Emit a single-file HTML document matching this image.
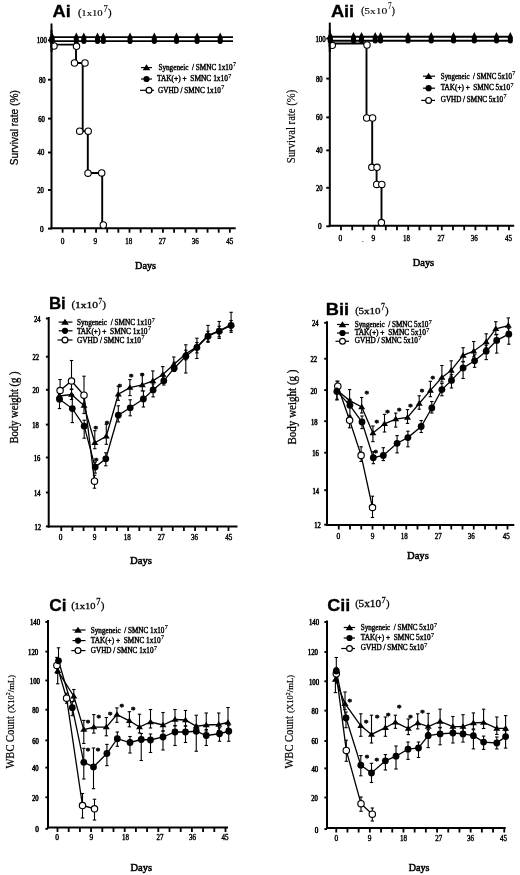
<!DOCTYPE html>
<html><head><meta charset="utf-8"><title>Figure</title>
<style>
html,body{margin:0;padding:0;background:#fff;}
body{width:520px;height:875px;overflow:hidden;}
svg{display:block;filter:blur(0.3px);}
</style></head>
<body>
<svg width="520" height="875" viewBox="0 0 520 875">
<rect width="520" height="875" fill="#fff"/>
<g stroke="#000" fill="#000">
<line x1="51.5" y1="23.5" x2="51.5" y2="229.2" stroke-width="2"/>
<line x1="50.5" y1="228.2" x2="235.7" y2="228.2" stroke-width="2"/>
<line x1="48" y1="40.3" x2="51.5" y2="40.3" stroke-width="1.9"/>
<text x="41.75" y="43.2" font-size="8" font-family="'Liberation Serif', serif" font-weight="normal" text-anchor="middle" stroke="#000" stroke-width="0.5" textLength="10.2" lengthAdjust="spacingAndGlyphs">100</text>
<line x1="48" y1="79.7" x2="51.5" y2="79.7" stroke-width="1.9"/>
<text x="42.2" y="82.6" font-size="8" font-family="'Liberation Serif', serif" font-weight="normal" text-anchor="middle" stroke="#000" stroke-width="0.5" textLength="6.6" lengthAdjust="spacingAndGlyphs">80</text>
<line x1="48" y1="118.6" x2="51.5" y2="118.6" stroke-width="1.9"/>
<text x="41.5" y="121.5" font-size="8" font-family="'Liberation Serif', serif" font-weight="normal" text-anchor="middle" stroke="#000" stroke-width="0.5" textLength="6.6" lengthAdjust="spacingAndGlyphs">60</text>
<line x1="48" y1="152.5" x2="51.5" y2="152.5" stroke-width="1.9"/>
<text x="40.9" y="155.4" font-size="8" font-family="'Liberation Serif', serif" font-weight="normal" text-anchor="middle" stroke="#000" stroke-width="0.5" textLength="6.6" lengthAdjust="spacingAndGlyphs">40</text>
<line x1="48" y1="190" x2="51.5" y2="190" stroke-width="1.9"/>
<text x="40.6" y="192.9" font-size="8" font-family="'Liberation Serif', serif" font-weight="normal" text-anchor="middle" stroke="#000" stroke-width="0.5" textLength="6.6" lengthAdjust="spacingAndGlyphs">20</text>
<line x1="48" y1="228.6" x2="51.5" y2="228.6" stroke-width="1.9"/>
<text x="41.7" y="231.5" font-size="8" font-family="'Liberation Serif', serif" font-weight="normal" text-anchor="middle" stroke="#000" stroke-width="0.5" textLength="3.6" lengthAdjust="spacingAndGlyphs">0</text>
<line x1="62.6" y1="228.2" x2="62.6" y2="232.7" stroke-width="1.8"/>
<line x1="73.75" y1="228.2" x2="73.75" y2="232.7" stroke-width="1.8"/>
<line x1="84.9" y1="228.2" x2="84.9" y2="232.7" stroke-width="1.8"/>
<line x1="96.05" y1="228.2" x2="96.05" y2="232.7" stroke-width="1.8"/>
<line x1="107.2" y1="228.2" x2="107.2" y2="232.7" stroke-width="1.8"/>
<line x1="118.35" y1="228.2" x2="118.35" y2="232.7" stroke-width="1.8"/>
<line x1="129.5" y1="228.2" x2="129.5" y2="232.7" stroke-width="1.8"/>
<line x1="140.65" y1="228.2" x2="140.65" y2="232.7" stroke-width="1.8"/>
<line x1="151.8" y1="228.2" x2="151.8" y2="232.7" stroke-width="1.8"/>
<line x1="162.95" y1="228.2" x2="162.95" y2="232.7" stroke-width="1.8"/>
<line x1="174.1" y1="228.2" x2="174.1" y2="232.7" stroke-width="1.8"/>
<line x1="185.25" y1="228.2" x2="185.25" y2="232.7" stroke-width="1.8"/>
<line x1="196.4" y1="228.2" x2="196.4" y2="232.7" stroke-width="1.8"/>
<line x1="207.55" y1="228.2" x2="207.55" y2="232.7" stroke-width="1.8"/>
<line x1="218.7" y1="228.2" x2="218.7" y2="232.7" stroke-width="1.8"/>
<line x1="229.85" y1="228.2" x2="229.85" y2="232.7" stroke-width="1.8"/>
<text x="62.6" y="243.8" font-size="7.6" font-family="'Liberation Serif', serif" font-weight="normal" text-anchor="middle" stroke="#000" stroke-width="0.4" textLength="3.7" lengthAdjust="spacingAndGlyphs">0</text>
<text x="95.4" y="243.8" font-size="7.6" font-family="'Liberation Serif', serif" font-weight="normal" text-anchor="middle" stroke="#000" stroke-width="0.4" textLength="3.7" lengthAdjust="spacingAndGlyphs">9</text>
<text x="128.8" y="243.8" font-size="7.6" font-family="'Liberation Serif', serif" font-weight="normal" text-anchor="middle" stroke="#000" stroke-width="0.4" textLength="7" lengthAdjust="spacingAndGlyphs">18</text>
<text x="162.3" y="243.8" font-size="7.6" font-family="'Liberation Serif', serif" font-weight="normal" text-anchor="middle" stroke="#000" stroke-width="0.4" textLength="7" lengthAdjust="spacingAndGlyphs">27</text>
<text x="195.3" y="243.8" font-size="7.6" font-family="'Liberation Serif', serif" font-weight="normal" text-anchor="middle" stroke="#000" stroke-width="0.4" textLength="7" lengthAdjust="spacingAndGlyphs">36</text>
<text x="229.7" y="243.8" font-size="7.6" font-family="'Liberation Serif', serif" font-weight="normal" text-anchor="middle" stroke="#000" stroke-width="0.4" textLength="7" lengthAdjust="spacingAndGlyphs">45</text>
<text x="52.6" y="16.5" font-size="16" font-family="'Liberation Sans', sans-serif" font-weight="bold" text-anchor="start" stroke="#000" stroke-width="0.3" textLength="18.2" lengthAdjust="spacingAndGlyphs">Ai</text>
<text x="78" y="16.15" font-size="10.81" font-family="'Liberation Serif', serif" font-weight="normal" text-anchor="start" stroke="#000" stroke-width="0.25">(</text>
<text x="107.9" y="16.15" font-size="10.81" font-family="'Liberation Serif', serif" font-weight="normal" text-anchor="start" stroke="#000" stroke-width="0.25">)</text>
<text x="81.3" y="15.75" font-size="8.56" font-family="'Liberation Serif', serif" font-weight="normal" text-anchor="start" stroke="#000" stroke-width="0.15" textLength="21.4" lengthAdjust="spacingAndGlyphs">1x10</text>
<text x="103.5" y="12.1" font-size="9.85" font-family="'Liberation Serif', serif" font-weight="normal" text-anchor="start" stroke="#000" stroke-width="0.15" textLength="4.2" lengthAdjust="spacingAndGlyphs">7</text>
<line x1="141" y1="67.6" x2="152" y2="67.6" stroke-width="1.2"/>
<path d="M146.5,64.25 L150.3,70.33 L142.7,70.33Z" stroke="none" fill="#000"/>
<text x="158.4" y="69.8" font-size="7.5" font-family="'Liberation Serif', serif" font-weight="normal" text-anchor="start" stroke="#000" stroke-width="0.4" textLength="74.1" lengthAdjust="spacingAndGlyphs">Syngeneic&#160;&#160;/ SMNC 1x10</text>
<text x="232.9" y="66.3" font-size="6" font-family="'Liberation Serif', serif" font-weight="normal" text-anchor="start" stroke="#000" stroke-width="0.25">7</text>
<line x1="141" y1="79" x2="152" y2="79" stroke-width="1.2"/>
<circle cx="146.5" cy="79" r="3.1" fill="#000" stroke="none"/>
<text x="157" y="81.4" font-size="7.5" font-family="'Liberation Serif', serif" font-weight="normal" text-anchor="start" stroke="#000" stroke-width="0.4" textLength="70.9" lengthAdjust="spacingAndGlyphs">TAK(+) +&#160;&#160;SMNC 1x10</text>
<text x="228.3" y="77.9" font-size="6" font-family="'Liberation Serif', serif" font-weight="normal" text-anchor="start" stroke="#000" stroke-width="0.25">7</text>
<line x1="140" y1="90.3" x2="154" y2="90.3" stroke-width="1.2"/>
<circle cx="149" cy="90.3" r="2.9" fill="#fff" stroke-width="1.2"/>
<text x="158" y="92.9" font-size="7.5" font-family="'Liberation Serif', serif" font-weight="normal" text-anchor="start" stroke="#000" stroke-width="0.4" textLength="62.9" lengthAdjust="spacingAndGlyphs">GVHD / SMNC 1x10</text>
<text x="221.3" y="89.4" font-size="6" font-family="'Liberation Serif', serif" font-weight="normal" text-anchor="start" stroke="#000" stroke-width="0.25">7</text>
<line x1="329.8" y1="22.6" x2="329.8" y2="226.8" stroke-width="2"/>
<line x1="328.8" y1="225.8" x2="514.2" y2="225.8" stroke-width="2"/>
<line x1="326.3" y1="38.6" x2="329.8" y2="38.6" stroke-width="1.9"/>
<text x="320.5" y="41.5" font-size="8" font-family="'Liberation Serif', serif" font-weight="normal" text-anchor="middle" stroke="#000" stroke-width="0.5" textLength="10.2" lengthAdjust="spacingAndGlyphs">100</text>
<line x1="326.3" y1="78.6" x2="329.8" y2="78.6" stroke-width="1.9"/>
<text x="319.3" y="81.5" font-size="8" font-family="'Liberation Serif', serif" font-weight="normal" text-anchor="middle" stroke="#000" stroke-width="0.5" textLength="6.6" lengthAdjust="spacingAndGlyphs">80</text>
<line x1="326.3" y1="117.4" x2="329.8" y2="117.4" stroke-width="1.9"/>
<text x="319.3" y="120.3" font-size="8" font-family="'Liberation Serif', serif" font-weight="normal" text-anchor="middle" stroke="#000" stroke-width="0.5" textLength="6.6" lengthAdjust="spacingAndGlyphs">60</text>
<line x1="326.3" y1="150.4" x2="329.8" y2="150.4" stroke-width="1.9"/>
<text x="319.3" y="153.3" font-size="8" font-family="'Liberation Serif', serif" font-weight="normal" text-anchor="middle" stroke="#000" stroke-width="0.5" textLength="6.6" lengthAdjust="spacingAndGlyphs">40</text>
<line x1="326.3" y1="187.8" x2="329.8" y2="187.8" stroke-width="1.9"/>
<text x="319.3" y="190.7" font-size="8" font-family="'Liberation Serif', serif" font-weight="normal" text-anchor="middle" stroke="#000" stroke-width="0.5" textLength="6.6" lengthAdjust="spacingAndGlyphs">20</text>
<line x1="326.3" y1="226.3" x2="329.8" y2="226.3" stroke-width="1.9"/>
<text x="319.9" y="229.2" font-size="8" font-family="'Liberation Serif', serif" font-weight="normal" text-anchor="middle" stroke="#000" stroke-width="0.5" textLength="3.6" lengthAdjust="spacingAndGlyphs">0</text>
<line x1="341" y1="225.8" x2="341" y2="230.3" stroke-width="1.8"/>
<line x1="352.2" y1="225.8" x2="352.2" y2="230.3" stroke-width="1.8"/>
<line x1="363.4" y1="225.8" x2="363.4" y2="230.3" stroke-width="1.8"/>
<line x1="374.6" y1="225.8" x2="374.6" y2="230.3" stroke-width="1.8"/>
<line x1="385.8" y1="225.8" x2="385.8" y2="230.3" stroke-width="1.8"/>
<line x1="397" y1="225.8" x2="397" y2="230.3" stroke-width="1.8"/>
<line x1="408.2" y1="225.8" x2="408.2" y2="230.3" stroke-width="1.8"/>
<line x1="419.4" y1="225.8" x2="419.4" y2="230.3" stroke-width="1.8"/>
<line x1="430.6" y1="225.8" x2="430.6" y2="230.3" stroke-width="1.8"/>
<line x1="441.8" y1="225.8" x2="441.8" y2="230.3" stroke-width="1.8"/>
<line x1="453" y1="225.8" x2="453" y2="230.3" stroke-width="1.8"/>
<line x1="464.2" y1="225.8" x2="464.2" y2="230.3" stroke-width="1.8"/>
<line x1="475.4" y1="225.8" x2="475.4" y2="230.3" stroke-width="1.8"/>
<line x1="486.6" y1="225.8" x2="486.6" y2="230.3" stroke-width="1.8"/>
<line x1="497.8" y1="225.8" x2="497.8" y2="230.3" stroke-width="1.8"/>
<line x1="509" y1="225.8" x2="509" y2="230.3" stroke-width="1.8"/>
<text x="340.4" y="241.3" font-size="7.6" font-family="'Liberation Serif', serif" font-weight="normal" text-anchor="middle" stroke="#000" stroke-width="0.4" textLength="3.7" lengthAdjust="spacingAndGlyphs">0</text>
<text x="373.4" y="241.3" font-size="7.6" font-family="'Liberation Serif', serif" font-weight="normal" text-anchor="middle" stroke="#000" stroke-width="0.4" textLength="3.7" lengthAdjust="spacingAndGlyphs">9</text>
<text x="406.5" y="241.3" font-size="7.6" font-family="'Liberation Serif', serif" font-weight="normal" text-anchor="middle" stroke="#000" stroke-width="0.4" textLength="7" lengthAdjust="spacingAndGlyphs">18</text>
<text x="441" y="241.3" font-size="7.6" font-family="'Liberation Serif', serif" font-weight="normal" text-anchor="middle" stroke="#000" stroke-width="0.4" textLength="7" lengthAdjust="spacingAndGlyphs">27</text>
<text x="474.3" y="241.3" font-size="7.6" font-family="'Liberation Serif', serif" font-weight="normal" text-anchor="middle" stroke="#000" stroke-width="0.4" textLength="7" lengthAdjust="spacingAndGlyphs">36</text>
<text x="508.5" y="241.3" font-size="7.6" font-family="'Liberation Serif', serif" font-weight="normal" text-anchor="middle" stroke="#000" stroke-width="0.4" textLength="7" lengthAdjust="spacingAndGlyphs">45</text>
<text x="330.9" y="16.6" font-size="16" font-family="'Liberation Sans', sans-serif" font-weight="bold" text-anchor="start" stroke="#000" stroke-width="0.3" textLength="23.3" lengthAdjust="spacingAndGlyphs">Aii</text>
<text x="361.3" y="13.81" font-size="9.42" font-family="'Liberation Serif', serif" font-weight="normal" text-anchor="start" stroke="#000" stroke-width="0.25">(</text>
<text x="391.8" y="13.81" font-size="9.42" font-family="'Liberation Serif', serif" font-weight="normal" text-anchor="start" stroke="#000" stroke-width="0.25">)</text>
<text x="364.3" y="13.9" font-size="8.79" font-family="'Liberation Serif', serif" font-weight="normal" text-anchor="start" stroke="#000" stroke-width="0.1" textLength="23.1" lengthAdjust="spacingAndGlyphs">5x10</text>
<text x="388" y="9.4" font-size="10.3" font-family="'Liberation Serif', serif" font-weight="normal" text-anchor="start" stroke="#000" stroke-width="0.1" textLength="3.6" lengthAdjust="spacingAndGlyphs">7</text>
<line x1="423" y1="76.2" x2="435" y2="76.2" stroke-width="1.2"/>
<path d="M428.6,72.85 L432.4,78.93 L424.8,78.93Z" stroke="none" fill="#000"/>
<text x="440.8" y="78.6" font-size="7.5" font-family="'Liberation Serif', serif" font-weight="normal" text-anchor="start" stroke="#000" stroke-width="0.4" textLength="71.1" lengthAdjust="spacingAndGlyphs">Syngeneic&#160;&#160;/ SMNC 5x10</text>
<text x="512.3" y="75.1" font-size="6" font-family="'Liberation Serif', serif" font-weight="normal" text-anchor="start" stroke="#000" stroke-width="0.25">7</text>
<line x1="423" y1="88.2" x2="435" y2="88.2" stroke-width="1.2"/>
<circle cx="428.6" cy="88.2" r="3.1" fill="#000" stroke="none"/>
<text x="440.8" y="90.4" font-size="7.5" font-family="'Liberation Serif', serif" font-weight="normal" text-anchor="start" stroke="#000" stroke-width="0.4" textLength="69.2" lengthAdjust="spacingAndGlyphs">TAK(+) +&#160;&#160;SMNC 5x10</text>
<text x="510.4" y="86.9" font-size="6" font-family="'Liberation Serif', serif" font-weight="normal" text-anchor="start" stroke="#000" stroke-width="0.25">7</text>
<line x1="421.2" y1="100.4" x2="435" y2="100.4" stroke-width="1.2"/>
<circle cx="428.6" cy="100.4" r="2.9" fill="#fff" stroke-width="1.2"/>
<text x="440.8" y="101.7" font-size="7.5" font-family="'Liberation Serif', serif" font-weight="normal" text-anchor="start" stroke="#000" stroke-width="0.4" textLength="62.2" lengthAdjust="spacingAndGlyphs">GVHD / SMNC 5x10</text>
<text x="503.4" y="98.2" font-size="6" font-family="'Liberation Serif', serif" font-weight="normal" text-anchor="start" stroke="#000" stroke-width="0.25">7</text>
<line x1="51.5" y1="37.2" x2="233" y2="37.2" stroke-width="1.8"/>
<line x1="51.5" y1="41.2" x2="233" y2="41.2" stroke-width="1.8"/>
<path d="M52,32.6 L54.6,37.7 L54.4,41.2 L49.6,41.2 L49.4,37.7Z" stroke="none"/>
<circle cx="52" cy="41.4" r="2.5" fill="#000" stroke="none"/>
<path d="M76.3,32.6 L78.9,37.7 L78.7,41.2 L73.9,41.2 L73.7,37.7Z" stroke="none"/>
<circle cx="76.3" cy="41.4" r="2.5" fill="#000" stroke="none"/>
<path d="M83.8,32.6 L86.4,37.7 L86.2,41.2 L81.4,41.2 L81.2,37.7Z" stroke="none"/>
<circle cx="83.8" cy="41.4" r="2.5" fill="#000" stroke="none"/>
<path d="M97.5,32.6 L100.1,37.7 L99.9,41.2 L95.1,41.2 L94.9,37.7Z" stroke="none"/>
<circle cx="97.5" cy="41.4" r="2.5" fill="#000" stroke="none"/>
<path d="M103.3,32.6 L105.9,37.7 L105.7,41.2 L100.9,41.2 L100.7,37.7Z" stroke="none"/>
<circle cx="103.3" cy="41.4" r="2.5" fill="#000" stroke="none"/>
<path d="M130,32.6 L132.6,37.7 L132.4,41.2 L127.6,41.2 L127.4,37.7Z" stroke="none"/>
<circle cx="130" cy="41.4" r="2.5" fill="#000" stroke="none"/>
<path d="M154.3,32.6 L156.9,37.7 L156.7,41.2 L151.9,41.2 L151.7,37.7Z" stroke="none"/>
<circle cx="154.3" cy="41.4" r="2.5" fill="#000" stroke="none"/>
<path d="M176.5,32.6 L179.1,37.7 L178.9,41.2 L174.1,41.2 L173.9,37.7Z" stroke="none"/>
<circle cx="176.5" cy="41.4" r="2.5" fill="#000" stroke="none"/>
<path d="M197.1,32.6 L199.7,37.7 L199.5,41.2 L194.7,41.2 L194.5,37.7Z" stroke="none"/>
<circle cx="197.1" cy="41.4" r="2.5" fill="#000" stroke="none"/>
<path d="M220.2,32.6 L222.8,37.7 L222.6,41.2 L217.8,41.2 L217.6,37.7Z" stroke="none"/>
<circle cx="220.2" cy="41.4" r="2.5" fill="#000" stroke="none"/>
<polyline points="51.5,44.6 76,44.6 76,63 82.7,63 82.7,131.2 87.8,131.2 87.8,173 102.2,173 102.2,225" fill="none" stroke-width="1.9"/>
<circle cx="54" cy="46" r="3.2" fill="#fff" stroke-width="1.1"/>
<circle cx="76.5" cy="46.3" r="3.2" fill="#fff" stroke-width="1.1"/>
<circle cx="74.5" cy="63" r="3.2" fill="#fff" stroke-width="1.1"/>
<circle cx="85" cy="63" r="3.2" fill="#fff" stroke-width="1.1"/>
<circle cx="79.7" cy="131.2" r="3.2" fill="#fff" stroke-width="1.1"/>
<circle cx="88.2" cy="131.2" r="3.2" fill="#fff" stroke-width="1.1"/>
<circle cx="88" cy="173.2" r="3.2" fill="#fff" stroke-width="1.1"/>
<circle cx="101.7" cy="172.9" r="3.2" fill="#fff" stroke-width="1.1"/>
<circle cx="103.3" cy="225" r="3.2" fill="#fff" stroke-width="1.1"/>
<line x1="51.5" y1="30" x2="51.5" y2="52" stroke-width="2"/>
<path d="M52,32.6 L54.6,37.7 L54.4,41.2 L49.6,41.2 L49.4,37.7Z" stroke="none"/>
<circle cx="52" cy="41.4" r="2.5" fill="#000" stroke="none"/>
<text x="0" y="0" stroke="#000" stroke-width="0.3" font-size="11.8" font-family="'Liberation Sans', sans-serif" font-weight="normal" text-anchor="middle" textLength="75" lengthAdjust="spacingAndGlyphs" transform="translate(17.6,127.7) rotate(-90)">Survival rate (%)</text>
<text x="135" y="268.6" font-size="11" font-family="'Liberation Serif', serif" font-weight="normal" text-anchor="start" stroke="#000" stroke-width="0.55" textLength="21" lengthAdjust="spacingAndGlyphs">Days</text>
<line x1="330" y1="36.7" x2="512" y2="36.7" stroke-width="2"/>
<line x1="330" y1="40.8" x2="512" y2="40.8" stroke-width="1.9"/>
<path d="M330.3,32.1 L332.9,37.2 L332.7,40.8 L327.9,40.8 L327.7,37.2Z" stroke="none"/>
<circle cx="330.3" cy="41" r="2.5" fill="#000" stroke="none"/>
<path d="M353.5,32.1 L356.1,37.2 L355.9,40.8 L351.1,40.8 L350.9,37.2Z" stroke="none"/>
<circle cx="353.5" cy="41" r="2.5" fill="#000" stroke="none"/>
<path d="M361.5,32.1 L364.1,37.2 L363.9,40.8 L359.1,40.8 L358.9,37.2Z" stroke="none"/>
<circle cx="361.5" cy="41" r="2.5" fill="#000" stroke="none"/>
<path d="M375.2,32.1 L377.8,37.2 L377.6,40.8 L372.8,40.8 L372.6,37.2Z" stroke="none"/>
<circle cx="375.2" cy="41" r="2.5" fill="#000" stroke="none"/>
<path d="M380.5,32.1 L383.1,37.2 L382.9,40.8 L378.1,40.8 L377.9,37.2Z" stroke="none"/>
<circle cx="380.5" cy="41" r="2.5" fill="#000" stroke="none"/>
<path d="M408,32.1 L410.6,37.2 L410.4,40.8 L405.6,40.8 L405.4,37.2Z" stroke="none"/>
<circle cx="408" cy="41" r="2.5" fill="#000" stroke="none"/>
<path d="M431.2,32.1 L433.8,37.2 L433.6,40.8 L428.8,40.8 L428.6,37.2Z" stroke="none"/>
<circle cx="431.2" cy="41" r="2.5" fill="#000" stroke="none"/>
<path d="M453.5,32.1 L456.1,37.2 L455.9,40.8 L451.1,40.8 L450.9,37.2Z" stroke="none"/>
<circle cx="453.5" cy="41" r="2.5" fill="#000" stroke="none"/>
<path d="M474.3,32.1 L476.9,37.2 L476.7,40.8 L471.9,40.8 L471.7,37.2Z" stroke="none"/>
<circle cx="474.3" cy="41" r="2.5" fill="#000" stroke="none"/>
<path d="M496.5,32.1 L499.1,37.2 L498.9,40.8 L494.1,40.8 L493.9,37.2Z" stroke="none"/>
<circle cx="496.5" cy="41" r="2.5" fill="#000" stroke="none"/>
<path d="M510.3,32.1 L512.9,37.2 L512.7,40.8 L507.9,40.8 L507.7,37.2Z" stroke="none"/>
<circle cx="510.3" cy="41" r="2.5" fill="#000" stroke="none"/>
<polyline points="330,43.5 366.5,43.5 366.5,118 372.2,118 372.2,167.3 376.6,167.3 376.6,184.4 381.5,184.4 381.5,222.6" fill="none" stroke-width="1.9"/>
<circle cx="332.3" cy="45.3" r="3.2" fill="#fff" stroke-width="1.1"/>
<circle cx="367" cy="45" r="3.2" fill="#fff" stroke-width="1.1"/>
<circle cx="366.7" cy="118" r="3.2" fill="#fff" stroke-width="1.1"/>
<circle cx="372.6" cy="118" r="3.2" fill="#fff" stroke-width="1.1"/>
<circle cx="371.8" cy="167.3" r="3.2" fill="#fff" stroke-width="1.1"/>
<circle cx="377" cy="167.3" r="3.2" fill="#fff" stroke-width="1.1"/>
<circle cx="376.7" cy="184.4" r="3.2" fill="#fff" stroke-width="1.1"/>
<circle cx="381.8" cy="184.4" r="3.2" fill="#fff" stroke-width="1.1"/>
<circle cx="381.4" cy="222.6" r="3.2" fill="#fff" stroke-width="1.1"/>
<line x1="329.8" y1="30" x2="329.8" y2="52" stroke-width="2"/>
<path d="M330.3,32.1 L332.9,37.2 L332.7,40.8 L327.9,40.8 L327.7,37.2Z" stroke="none"/>
<circle cx="330.3" cy="41" r="2.5" fill="#000" stroke="none"/>
<text x="362.8" y="242" font-size="7" font-family="'Liberation Serif', serif" font-weight="bold" text-anchor="middle" stroke="none">.</text>
<text x="0" y="0" stroke="#000" stroke-width="0.15" font-size="12.4" font-family="'Liberation Serif', serif" font-weight="normal" text-anchor="middle" textLength="73.4" lengthAdjust="spacingAndGlyphs" transform="translate(295.2,126.5) rotate(-90)">Survival rate (%)</text>
<text x="412.7" y="266.4" font-size="11" font-family="'Liberation Serif', serif" font-weight="normal" text-anchor="start" stroke="#000" stroke-width="0.55" textLength="21.5" lengthAdjust="spacingAndGlyphs">Days</text>
</g>
<g stroke="#000" fill="#000">
<line x1="48.7" y1="317" x2="48.7" y2="527.5" stroke-width="2"/>
<line x1="47.7" y1="526.5" x2="237.5" y2="526.5" stroke-width="2"/>
<line x1="45.9" y1="318.5" x2="48.7" y2="318.5" stroke-width="1.9"/>
<text x="37.3" y="321.9" font-size="7.2" font-family="'Liberation Serif', serif" font-weight="normal" text-anchor="middle" stroke="#000" stroke-width="0.5" textLength="6.6" lengthAdjust="spacingAndGlyphs">24</text>
<line x1="45.9" y1="356.7" x2="48.7" y2="356.7" stroke-width="1.9"/>
<text x="35.8" y="360.1" font-size="7.2" font-family="'Liberation Serif', serif" font-weight="normal" text-anchor="middle" stroke="#000" stroke-width="0.5" textLength="6.6" lengthAdjust="spacingAndGlyphs">22</text>
<line x1="45.9" y1="389.8" x2="48.7" y2="389.8" stroke-width="1.9"/>
<text x="35.8" y="393.2" font-size="7.2" font-family="'Liberation Serif', serif" font-weight="normal" text-anchor="middle" stroke="#000" stroke-width="0.5" textLength="6.6" lengthAdjust="spacingAndGlyphs">20</text>
<line x1="45.9" y1="424.6" x2="48.7" y2="424.6" stroke-width="1.9"/>
<text x="35.6" y="428" font-size="7.2" font-family="'Liberation Serif', serif" font-weight="normal" text-anchor="middle" stroke="#000" stroke-width="0.5" textLength="6.6" lengthAdjust="spacingAndGlyphs">18</text>
<line x1="45.9" y1="457.5" x2="48.7" y2="457.5" stroke-width="1.9"/>
<text x="37" y="460.9" font-size="7.2" font-family="'Liberation Serif', serif" font-weight="normal" text-anchor="middle" stroke="#000" stroke-width="0.5" textLength="6.6" lengthAdjust="spacingAndGlyphs">16</text>
<line x1="45.9" y1="492.5" x2="48.7" y2="492.5" stroke-width="1.9"/>
<text x="37.3" y="495.9" font-size="7.2" font-family="'Liberation Serif', serif" font-weight="normal" text-anchor="middle" stroke="#000" stroke-width="0.5" textLength="6.6" lengthAdjust="spacingAndGlyphs">14</text>
<line x1="45.9" y1="526.4" x2="48.7" y2="526.4" stroke-width="1.9"/>
<text x="37.7" y="529.8" font-size="7.2" font-family="'Liberation Serif', serif" font-weight="normal" text-anchor="middle" stroke="#000" stroke-width="0.5" textLength="6.6" lengthAdjust="spacingAndGlyphs">12</text>
<line x1="61.25" y1="526.5" x2="61.25" y2="531" stroke-width="1.8"/>
<line x1="72.4" y1="526.5" x2="72.4" y2="531" stroke-width="1.8"/>
<line x1="83.55" y1="526.5" x2="83.55" y2="531" stroke-width="1.8"/>
<line x1="94.7" y1="526.5" x2="94.7" y2="531" stroke-width="1.8"/>
<line x1="105.85" y1="526.5" x2="105.85" y2="531" stroke-width="1.8"/>
<line x1="117" y1="526.5" x2="117" y2="531" stroke-width="1.8"/>
<line x1="128.15" y1="526.5" x2="128.15" y2="531" stroke-width="1.8"/>
<line x1="139.3" y1="526.5" x2="139.3" y2="531" stroke-width="1.8"/>
<line x1="150.45" y1="526.5" x2="150.45" y2="531" stroke-width="1.8"/>
<line x1="161.6" y1="526.5" x2="161.6" y2="531" stroke-width="1.8"/>
<line x1="172.75" y1="526.5" x2="172.75" y2="531" stroke-width="1.8"/>
<line x1="183.9" y1="526.5" x2="183.9" y2="531" stroke-width="1.8"/>
<line x1="195.05" y1="526.5" x2="195.05" y2="531" stroke-width="1.8"/>
<line x1="206.2" y1="526.5" x2="206.2" y2="531" stroke-width="1.8"/>
<line x1="217.35" y1="526.5" x2="217.35" y2="531" stroke-width="1.8"/>
<line x1="228.5" y1="526.5" x2="228.5" y2="531" stroke-width="1.8"/>
<text x="60.5" y="540.1" font-size="7.6" font-family="'Liberation Serif', serif" font-weight="normal" text-anchor="middle" stroke="#000" stroke-width="0.4" textLength="3.7" lengthAdjust="spacingAndGlyphs">0</text>
<text x="94.5" y="540.1" font-size="7.6" font-family="'Liberation Serif', serif" font-weight="normal" text-anchor="middle" stroke="#000" stroke-width="0.4" textLength="3.7" lengthAdjust="spacingAndGlyphs">9</text>
<text x="127.3" y="540.1" font-size="7.6" font-family="'Liberation Serif', serif" font-weight="normal" text-anchor="middle" stroke="#000" stroke-width="0.4" textLength="7" lengthAdjust="spacingAndGlyphs">18</text>
<text x="161.3" y="540.1" font-size="7.6" font-family="'Liberation Serif', serif" font-weight="normal" text-anchor="middle" stroke="#000" stroke-width="0.4" textLength="7" lengthAdjust="spacingAndGlyphs">27</text>
<text x="194.5" y="540.1" font-size="7.6" font-family="'Liberation Serif', serif" font-weight="normal" text-anchor="middle" stroke="#000" stroke-width="0.4" textLength="7" lengthAdjust="spacingAndGlyphs">36</text>
<text x="228.7" y="540.1" font-size="7.6" font-family="'Liberation Serif', serif" font-weight="normal" text-anchor="middle" stroke="#000" stroke-width="0.4" textLength="7" lengthAdjust="spacingAndGlyphs">45</text>
<text x="48.9" y="308.5" font-size="16" font-family="'Liberation Sans', sans-serif" font-weight="bold" text-anchor="start" stroke="#000" stroke-width="0.3" textLength="16.9" lengthAdjust="spacingAndGlyphs">Bi</text>
<text x="71.6" y="308.06" font-size="11.28" font-family="'Liberation Serif', serif" font-weight="normal" text-anchor="start" stroke="#000" stroke-width="0.25">(</text>
<text x="102.3" y="308.06" font-size="11.28" font-family="'Liberation Serif', serif" font-weight="normal" text-anchor="start" stroke="#000" stroke-width="0.25">)</text>
<text x="74.9" y="307.7" font-size="8.48" font-family="'Liberation Serif', serif" font-weight="normal" text-anchor="start" stroke="#000" stroke-width="0.3" textLength="23" lengthAdjust="spacingAndGlyphs">1x10</text>
<text x="98.5" y="304.1" font-size="9.24" font-family="'Liberation Serif', serif" font-weight="normal" text-anchor="start" stroke="#000" stroke-width="0.3" textLength="3.6" lengthAdjust="spacingAndGlyphs">7</text>
<line x1="58.7" y1="322.1" x2="72.5" y2="322.1" stroke-width="1.2"/>
<path d="M65,318.75 L68.8,324.83 L61.2,324.83Z" stroke="none" fill="#000"/>
<text x="76.9" y="325" font-size="7.5" font-family="'Liberation Serif', serif" font-weight="normal" text-anchor="start" stroke="#000" stroke-width="0.4" textLength="74.4" lengthAdjust="spacingAndGlyphs">Syngeneic&#160;&#160;/ SMNC 1x10</text>
<text x="151.7" y="321.5" font-size="6" font-family="'Liberation Serif', serif" font-weight="normal" text-anchor="start" stroke="#000" stroke-width="0.25">7</text>
<line x1="58.7" y1="330.8" x2="72.5" y2="330.8" stroke-width="1.2"/>
<circle cx="65" cy="330.8" r="3.1" fill="#000" stroke="none"/>
<text x="76.9" y="333.6" font-size="7.5" font-family="'Liberation Serif', serif" font-weight="normal" text-anchor="start" stroke="#000" stroke-width="0.4" textLength="70.6" lengthAdjust="spacingAndGlyphs">TAK(+) +&#160;&#160;SMNC 1x10</text>
<text x="147.9" y="330.1" font-size="6" font-family="'Liberation Serif', serif" font-weight="normal" text-anchor="start" stroke="#000" stroke-width="0.25">7</text>
<line x1="57.5" y1="340" x2="72.5" y2="340" stroke-width="1.2"/>
<circle cx="65" cy="340" r="2.9" fill="#fff" stroke-width="1.2"/>
<text x="76.9" y="342.9" font-size="7.5" font-family="'Liberation Serif', serif" font-weight="normal" text-anchor="start" stroke="#000" stroke-width="0.4" textLength="64.1" lengthAdjust="spacingAndGlyphs">GVHD / SMNC 1x10</text>
<text x="141.4" y="339.4" font-size="6" font-family="'Liberation Serif', serif" font-weight="normal" text-anchor="start" stroke="#000" stroke-width="0.25">7</text>
<line x1="327" y1="321.2" x2="327" y2="526" stroke-width="2"/>
<line x1="326" y1="525" x2="514.3" y2="525" stroke-width="2"/>
<line x1="324.2" y1="322.8" x2="327" y2="322.8" stroke-width="1.9"/>
<text x="315.3" y="326.2" font-size="7.2" font-family="'Liberation Serif', serif" font-weight="normal" text-anchor="middle" stroke="#000" stroke-width="0.5" textLength="6.6" lengthAdjust="spacingAndGlyphs">24</text>
<line x1="324.2" y1="358.7" x2="327" y2="358.7" stroke-width="1.9"/>
<text x="313.8" y="362.1" font-size="7.2" font-family="'Liberation Serif', serif" font-weight="normal" text-anchor="middle" stroke="#000" stroke-width="0.5" textLength="6.6" lengthAdjust="spacingAndGlyphs">22</text>
<line x1="324.2" y1="390.1" x2="327" y2="390.1" stroke-width="1.9"/>
<text x="313.8" y="393.5" font-size="7.2" font-family="'Liberation Serif', serif" font-weight="normal" text-anchor="middle" stroke="#000" stroke-width="0.5" textLength="6.6" lengthAdjust="spacingAndGlyphs">20</text>
<line x1="324.2" y1="421.2" x2="327" y2="421.2" stroke-width="1.9"/>
<text x="314.2" y="424.6" font-size="7.2" font-family="'Liberation Serif', serif" font-weight="normal" text-anchor="middle" stroke="#000" stroke-width="0.5" textLength="6.6" lengthAdjust="spacingAndGlyphs">18</text>
<line x1="324.2" y1="452.7" x2="327" y2="452.7" stroke-width="1.9"/>
<text x="315.5" y="456.1" font-size="7.2" font-family="'Liberation Serif', serif" font-weight="normal" text-anchor="middle" stroke="#000" stroke-width="0.5" textLength="6.6" lengthAdjust="spacingAndGlyphs">16</text>
<line x1="324.2" y1="490.2" x2="327" y2="490.2" stroke-width="1.9"/>
<text x="315.7" y="493.6" font-size="7.2" font-family="'Liberation Serif', serif" font-weight="normal" text-anchor="middle" stroke="#000" stroke-width="0.5" textLength="6.6" lengthAdjust="spacingAndGlyphs">14</text>
<line x1="324.2" y1="524.7" x2="327" y2="524.7" stroke-width="1.9"/>
<text x="317.5" y="528.1" font-size="7.2" font-family="'Liberation Serif', serif" font-weight="normal" text-anchor="middle" stroke="#000" stroke-width="0.5" textLength="6.6" lengthAdjust="spacingAndGlyphs">12</text>
<line x1="338.75" y1="525" x2="338.75" y2="529.5" stroke-width="1.8"/>
<line x1="350" y1="525" x2="350" y2="529.5" stroke-width="1.8"/>
<line x1="361.25" y1="525" x2="361.25" y2="529.5" stroke-width="1.8"/>
<line x1="372.5" y1="525" x2="372.5" y2="529.5" stroke-width="1.8"/>
<line x1="383.75" y1="525" x2="383.75" y2="529.5" stroke-width="1.8"/>
<line x1="395" y1="525" x2="395" y2="529.5" stroke-width="1.8"/>
<line x1="406.25" y1="525" x2="406.25" y2="529.5" stroke-width="1.8"/>
<line x1="417.5" y1="525" x2="417.5" y2="529.5" stroke-width="1.8"/>
<line x1="428.75" y1="525" x2="428.75" y2="529.5" stroke-width="1.8"/>
<line x1="440" y1="525" x2="440" y2="529.5" stroke-width="1.8"/>
<line x1="451.25" y1="525" x2="451.25" y2="529.5" stroke-width="1.8"/>
<line x1="462.5" y1="525" x2="462.5" y2="529.5" stroke-width="1.8"/>
<line x1="473.75" y1="525" x2="473.75" y2="529.5" stroke-width="1.8"/>
<line x1="485" y1="525" x2="485" y2="529.5" stroke-width="1.8"/>
<line x1="496.25" y1="525" x2="496.25" y2="529.5" stroke-width="1.8"/>
<line x1="507.5" y1="525" x2="507.5" y2="529.5" stroke-width="1.8"/>
<text x="338.3" y="538.6" font-size="7.6" font-family="'Liberation Serif', serif" font-weight="normal" text-anchor="middle" stroke="#000" stroke-width="0.4" textLength="3.7" lengthAdjust="spacingAndGlyphs">0</text>
<text x="372.5" y="538.6" font-size="7.6" font-family="'Liberation Serif', serif" font-weight="normal" text-anchor="middle" stroke="#000" stroke-width="0.4" textLength="3.7" lengthAdjust="spacingAndGlyphs">9</text>
<text x="404.2" y="538.6" font-size="7.6" font-family="'Liberation Serif', serif" font-weight="normal" text-anchor="middle" stroke="#000" stroke-width="0.4" textLength="7" lengthAdjust="spacingAndGlyphs">18</text>
<text x="438.3" y="538.6" font-size="7.6" font-family="'Liberation Serif', serif" font-weight="normal" text-anchor="middle" stroke="#000" stroke-width="0.4" textLength="7" lengthAdjust="spacingAndGlyphs">27</text>
<text x="471.3" y="538.6" font-size="7.6" font-family="'Liberation Serif', serif" font-weight="normal" text-anchor="middle" stroke="#000" stroke-width="0.4" textLength="7" lengthAdjust="spacingAndGlyphs">36</text>
<text x="506.3" y="538.6" font-size="7.6" font-family="'Liberation Serif', serif" font-weight="normal" text-anchor="middle" stroke="#000" stroke-width="0.4" textLength="7" lengthAdjust="spacingAndGlyphs">45</text>
<text x="325.7" y="315.2" font-size="16" font-family="'Liberation Sans', sans-serif" font-weight="bold" text-anchor="start" stroke="#000" stroke-width="0.3" textLength="23.4" lengthAdjust="spacingAndGlyphs">Bii</text>
<text x="355.3" y="314.15" font-size="10.81" font-family="'Liberation Serif', serif" font-weight="normal" text-anchor="start" stroke="#000" stroke-width="0.25">(</text>
<text x="385.1" y="314.15" font-size="10.81" font-family="'Liberation Serif', serif" font-weight="normal" text-anchor="start" stroke="#000" stroke-width="0.25">)</text>
<text x="358.5" y="313.7" font-size="9.09" font-family="'Liberation Serif', serif" font-weight="normal" text-anchor="start" stroke="#000" stroke-width="0.3" textLength="22.1" lengthAdjust="spacingAndGlyphs">5x10</text>
<text x="381.1" y="309.7" font-size="10.45" font-family="'Liberation Serif', serif" font-weight="normal" text-anchor="start" stroke="#000" stroke-width="0.3" textLength="3.8" lengthAdjust="spacingAndGlyphs">7</text>
<line x1="337" y1="324.5" x2="349" y2="324.5" stroke-width="1.2"/>
<path d="M342.5,321.15 L346.3,327.23 L338.7,327.23Z" stroke="none" fill="#000"/>
<text x="354.8" y="327.1" font-size="7.5" font-family="'Liberation Serif', serif" font-weight="normal" text-anchor="start" stroke="#000" stroke-width="0.4" textLength="73.6" lengthAdjust="spacingAndGlyphs">Syngeneic&#160;&#160;/ SMNC 5x10</text>
<text x="428.8" y="323.6" font-size="6" font-family="'Liberation Serif', serif" font-weight="normal" text-anchor="start" stroke="#000" stroke-width="0.25">7</text>
<line x1="337" y1="333" x2="349" y2="333" stroke-width="1.2"/>
<circle cx="342.5" cy="333" r="3.1" fill="#000" stroke="none"/>
<text x="354.8" y="335.2" font-size="7.5" font-family="'Liberation Serif', serif" font-weight="normal" text-anchor="start" stroke="#000" stroke-width="0.4" textLength="71.1" lengthAdjust="spacingAndGlyphs">TAK(+) +&#160;&#160;SMNC 5x10</text>
<text x="426.3" y="331.7" font-size="6" font-family="'Liberation Serif', serif" font-weight="normal" text-anchor="start" stroke="#000" stroke-width="0.25">7</text>
<line x1="335.5" y1="341.3" x2="349" y2="341.3" stroke-width="1.2"/>
<circle cx="342.5" cy="341.3" r="2.9" fill="#fff" stroke-width="1.2"/>
<text x="354.8" y="343.3" font-size="7.5" font-family="'Liberation Serif', serif" font-weight="normal" text-anchor="start" stroke="#000" stroke-width="0.4" textLength="63.1" lengthAdjust="spacingAndGlyphs">GVHD / SMNC 5x10</text>
<text x="418.3" y="339.8" font-size="6" font-family="'Liberation Serif', serif" font-weight="normal" text-anchor="start" stroke="#000" stroke-width="0.25">7</text>
<line x1="59.2" y1="391" x2="59.2" y2="401" stroke-width="1.1"/>
<line x1="57.5" y1="391" x2="60.9" y2="391" stroke-width="1.1"/>
<line x1="57.5" y1="401" x2="60.9" y2="401" stroke-width="1.1"/>
<line x1="71.5" y1="389.5" x2="71.5" y2="399.5" stroke-width="1.1"/>
<line x1="69.8" y1="389.5" x2="73.2" y2="389.5" stroke-width="1.1"/>
<line x1="69.8" y1="399.5" x2="73.2" y2="399.5" stroke-width="1.1"/>
<line x1="84" y1="397.5" x2="84" y2="413.5" stroke-width="1.1"/>
<line x1="82.3" y1="397.5" x2="85.7" y2="397.5" stroke-width="1.1"/>
<line x1="82.3" y1="413.5" x2="85.7" y2="413.5" stroke-width="1.1"/>
<line x1="94.8" y1="430.7" x2="94.8" y2="448.7" stroke-width="1.1"/>
<line x1="93.1" y1="430.7" x2="96.5" y2="430.7" stroke-width="1.1"/>
<line x1="93.1" y1="448.7" x2="96.5" y2="448.7" stroke-width="1.1"/>
<line x1="106.3" y1="424.3" x2="106.3" y2="444.3" stroke-width="1.1"/>
<line x1="104.6" y1="424.3" x2="108" y2="424.3" stroke-width="1.1"/>
<line x1="104.6" y1="444.3" x2="108" y2="444.3" stroke-width="1.1"/>
<line x1="118.3" y1="386.3" x2="118.3" y2="400.3" stroke-width="1.1"/>
<line x1="116.6" y1="386.3" x2="120" y2="386.3" stroke-width="1.1"/>
<line x1="116.6" y1="400.3" x2="120" y2="400.3" stroke-width="1.1"/>
<line x1="129.9" y1="379.6" x2="129.9" y2="395.6" stroke-width="1.1"/>
<line x1="128.2" y1="379.6" x2="131.6" y2="379.6" stroke-width="1.1"/>
<line x1="128.2" y1="395.6" x2="131.6" y2="395.6" stroke-width="1.1"/>
<line x1="142.3" y1="373.9" x2="142.3" y2="390.9" stroke-width="1.1"/>
<line x1="140.6" y1="373.9" x2="144" y2="373.9" stroke-width="1.1"/>
<line x1="140.6" y1="390.9" x2="144" y2="390.9" stroke-width="1.1"/>
<line x1="152.8" y1="370.9" x2="152.8" y2="388.9" stroke-width="1.1"/>
<line x1="151.1" y1="370.9" x2="154.5" y2="370.9" stroke-width="1.1"/>
<line x1="151.1" y1="388.9" x2="154.5" y2="388.9" stroke-width="1.1"/>
<line x1="162.8" y1="366.6" x2="162.8" y2="382.6" stroke-width="1.1"/>
<line x1="161.1" y1="366.6" x2="164.5" y2="366.6" stroke-width="1.1"/>
<line x1="161.1" y1="382.6" x2="164.5" y2="382.6" stroke-width="1.1"/>
<line x1="173.8" y1="357" x2="173.8" y2="370.6" stroke-width="1.1"/>
<line x1="172.1" y1="357" x2="175.5" y2="357" stroke-width="1.1"/>
<line x1="172.1" y1="370.6" x2="175.5" y2="370.6" stroke-width="1.1"/>
<line x1="185.8" y1="344.8" x2="185.8" y2="359.8" stroke-width="1.1"/>
<line x1="184.1" y1="344.8" x2="187.5" y2="344.8" stroke-width="1.1"/>
<line x1="184.1" y1="359.8" x2="187.5" y2="359.8" stroke-width="1.1"/>
<line x1="196.9" y1="338.2" x2="196.9" y2="352.9" stroke-width="1.1"/>
<line x1="195.2" y1="338.2" x2="198.6" y2="338.2" stroke-width="1.1"/>
<line x1="195.2" y1="352.9" x2="198.6" y2="352.9" stroke-width="1.1"/>
<line x1="208" y1="325.4" x2="208" y2="341.4" stroke-width="1.1"/>
<line x1="206.3" y1="325.4" x2="209.7" y2="325.4" stroke-width="1.1"/>
<line x1="206.3" y1="341.4" x2="209.7" y2="341.4" stroke-width="1.1"/>
<line x1="219.2" y1="321.5" x2="219.2" y2="336.8" stroke-width="1.1"/>
<line x1="217.5" y1="321.5" x2="220.9" y2="321.5" stroke-width="1.1"/>
<line x1="217.5" y1="336.8" x2="220.9" y2="336.8" stroke-width="1.1"/>
<line x1="231.1" y1="312.3" x2="231.1" y2="330.6" stroke-width="1.1"/>
<line x1="229.4" y1="312.3" x2="232.8" y2="312.3" stroke-width="1.1"/>
<line x1="229.4" y1="330.6" x2="232.8" y2="330.6" stroke-width="1.1"/>
<line x1="59.5" y1="393.2" x2="59.5" y2="408.6" stroke-width="1.1"/>
<line x1="57.8" y1="393.2" x2="61.2" y2="393.2" stroke-width="1.1"/>
<line x1="57.8" y1="408.6" x2="61.2" y2="408.6" stroke-width="1.1"/>
<line x1="72.3" y1="394.6" x2="72.3" y2="422.6" stroke-width="1.1"/>
<line x1="70.6" y1="394.6" x2="74" y2="394.6" stroke-width="1.1"/>
<line x1="70.6" y1="422.6" x2="74" y2="422.6" stroke-width="1.1"/>
<line x1="84.2" y1="420.2" x2="84.2" y2="438.2" stroke-width="1.1"/>
<line x1="82.5" y1="420.2" x2="85.9" y2="420.2" stroke-width="1.1"/>
<line x1="82.5" y1="438.2" x2="85.9" y2="438.2" stroke-width="1.1"/>
<line x1="95.2" y1="462.1" x2="95.2" y2="473.1" stroke-width="1.1"/>
<line x1="93.5" y1="462.1" x2="96.9" y2="462.1" stroke-width="1.1"/>
<line x1="93.5" y1="473.1" x2="96.9" y2="473.1" stroke-width="1.1"/>
<line x1="105.8" y1="452.8" x2="105.8" y2="465.8" stroke-width="1.1"/>
<line x1="104.1" y1="452.8" x2="107.5" y2="452.8" stroke-width="1.1"/>
<line x1="104.1" y1="465.8" x2="107.5" y2="465.8" stroke-width="1.1"/>
<line x1="118.3" y1="405.8" x2="118.3" y2="421.9" stroke-width="1.1"/>
<line x1="116.6" y1="405.8" x2="120" y2="405.8" stroke-width="1.1"/>
<line x1="116.6" y1="421.9" x2="120" y2="421.9" stroke-width="1.1"/>
<line x1="130.2" y1="399.8" x2="130.2" y2="415.8" stroke-width="1.1"/>
<line x1="128.5" y1="399.8" x2="131.9" y2="399.8" stroke-width="1.1"/>
<line x1="128.5" y1="415.8" x2="131.9" y2="415.8" stroke-width="1.1"/>
<line x1="143.4" y1="391" x2="143.4" y2="407" stroke-width="1.1"/>
<line x1="141.7" y1="391" x2="145.1" y2="391" stroke-width="1.1"/>
<line x1="141.7" y1="407" x2="145.1" y2="407" stroke-width="1.1"/>
<line x1="153.1" y1="383.9" x2="153.1" y2="396.9" stroke-width="1.1"/>
<line x1="151.4" y1="383.9" x2="154.8" y2="383.9" stroke-width="1.1"/>
<line x1="151.4" y1="396.9" x2="154.8" y2="396.9" stroke-width="1.1"/>
<line x1="163.8" y1="375.8" x2="163.8" y2="385" stroke-width="1.1"/>
<line x1="162.1" y1="375.8" x2="165.5" y2="375.8" stroke-width="1.1"/>
<line x1="162.1" y1="385" x2="165.5" y2="385" stroke-width="1.1"/>
<line x1="174.2" y1="362.2" x2="174.2" y2="371.5" stroke-width="1.1"/>
<line x1="172.5" y1="362.2" x2="175.9" y2="362.2" stroke-width="1.1"/>
<line x1="172.5" y1="371.5" x2="175.9" y2="371.5" stroke-width="1.1"/>
<line x1="185.8" y1="350.2" x2="185.8" y2="373" stroke-width="1.1"/>
<line x1="184.1" y1="350.2" x2="187.5" y2="350.2" stroke-width="1.1"/>
<line x1="184.1" y1="373" x2="187.5" y2="373" stroke-width="1.1"/>
<line x1="196.9" y1="342.5" x2="196.9" y2="358.5" stroke-width="1.1"/>
<line x1="195.2" y1="342.5" x2="198.6" y2="342.5" stroke-width="1.1"/>
<line x1="195.2" y1="358.5" x2="198.6" y2="358.5" stroke-width="1.1"/>
<line x1="208" y1="331.2" x2="208" y2="342.3" stroke-width="1.1"/>
<line x1="206.3" y1="331.2" x2="209.7" y2="331.2" stroke-width="1.1"/>
<line x1="206.3" y1="342.3" x2="209.7" y2="342.3" stroke-width="1.1"/>
<line x1="219.2" y1="326.2" x2="219.2" y2="338.5" stroke-width="1.1"/>
<line x1="217.5" y1="326.2" x2="220.9" y2="326.2" stroke-width="1.1"/>
<line x1="217.5" y1="338.5" x2="220.9" y2="338.5" stroke-width="1.1"/>
<line x1="231.1" y1="320.5" x2="231.1" y2="332.3" stroke-width="1.1"/>
<line x1="229.4" y1="320.5" x2="232.8" y2="320.5" stroke-width="1.1"/>
<line x1="229.4" y1="332.3" x2="232.8" y2="332.3" stroke-width="1.1"/>
<line x1="60.1" y1="379.5" x2="60.1" y2="399.5" stroke-width="1.1"/>
<line x1="58.4" y1="379.5" x2="61.8" y2="379.5" stroke-width="1.1"/>
<line x1="58.4" y1="399.5" x2="61.8" y2="399.5" stroke-width="1.1"/>
<line x1="71.5" y1="360.5" x2="71.5" y2="389" stroke-width="1.1"/>
<line x1="69.8" y1="360.5" x2="73.2" y2="360.5" stroke-width="1.1"/>
<line x1="69.8" y1="389" x2="73.2" y2="389" stroke-width="1.1"/>
<line x1="84" y1="376.2" x2="84" y2="403.2" stroke-width="1.1"/>
<line x1="82.3" y1="376.2" x2="85.7" y2="376.2" stroke-width="1.1"/>
<line x1="82.3" y1="403.2" x2="85.7" y2="403.2" stroke-width="1.1"/>
<line x1="94.5" y1="475.2" x2="94.5" y2="488.2" stroke-width="1.1"/>
<line x1="92.8" y1="475.2" x2="96.2" y2="475.2" stroke-width="1.1"/>
<line x1="92.8" y1="488.2" x2="96.2" y2="488.2" stroke-width="1.1"/>
<polyline points="59.2,396 71.5,394.5 84,405.5 94.8,442.7 106.3,436.3 118.3,394.3 129.9,387.6 142.3,384.9 152.8,380.9 162.8,374.6 173.8,364.6 185.8,353.8 196.9,346.9 208,335.4 219.2,330.8 231.1,324.6" fill="none" stroke-width="1.3"/>
<polyline points="59.5,399.2 72.3,408.6 84.2,426.2 95.2,467.1 105.8,458.8 118.3,415.2 130.2,407.8 143.4,399 153.1,389.9 163.8,380.8 174.2,368.2 185.8,356.2 196.9,347.5 208,336.2 219.2,331.2 231.1,325.5" fill="none" stroke-width="1.3"/>
<polyline points="60.1,390.5 71.5,381 84,395.2 94.5,481.2" fill="none" stroke-width="1.3"/>
<circle cx="60.1" cy="390.5" r="3.2" fill="#fff" stroke-width="1.15"/>
<circle cx="71.5" cy="381" r="3.2" fill="#fff" stroke-width="1.15"/>
<circle cx="84" cy="395.2" r="3.2" fill="#fff" stroke-width="1.15"/>
<circle cx="94.5" cy="481.2" r="3.2" fill="#fff" stroke-width="1.15"/>
<path d="M59.2,392.64 L62.7,398.24 L55.7,398.24Z" stroke="none" fill="#000"/>
<path d="M71.5,391.14 L75,396.74 L68,396.74Z" stroke="none" fill="#000"/>
<path d="M84,402.14 L87.5,407.74 L80.5,407.74Z" stroke="none" fill="#000"/>
<path d="M94.8,439.34 L98.3,444.94 L91.3,444.94Z" stroke="none" fill="#000"/>
<path d="M106.3,432.94 L109.8,438.54 L102.8,438.54Z" stroke="none" fill="#000"/>
<path d="M118.3,390.94 L121.8,396.54 L114.8,396.54Z" stroke="none" fill="#000"/>
<path d="M129.9,384.24 L133.4,389.84 L126.4,389.84Z" stroke="none" fill="#000"/>
<path d="M142.3,381.54 L145.8,387.14 L138.8,387.14Z" stroke="none" fill="#000"/>
<path d="M152.8,377.54 L156.3,383.14 L149.3,383.14Z" stroke="none" fill="#000"/>
<path d="M162.8,371.24 L166.3,376.84 L159.3,376.84Z" stroke="none" fill="#000"/>
<path d="M173.8,361.24 L177.3,366.84 L170.3,366.84Z" stroke="none" fill="#000"/>
<path d="M185.8,350.44 L189.3,356.04 L182.3,356.04Z" stroke="none" fill="#000"/>
<path d="M196.9,343.54 L200.4,349.14 L193.4,349.14Z" stroke="none" fill="#000"/>
<path d="M208,332.04 L211.5,337.64 L204.5,337.64Z" stroke="none" fill="#000"/>
<path d="M219.2,327.44 L222.7,333.04 L215.7,333.04Z" stroke="none" fill="#000"/>
<path d="M231.1,321.24 L234.6,326.84 L227.6,326.84Z" stroke="none" fill="#000"/>
<circle cx="59.5" cy="399.2" r="3.4" fill="#000" stroke="none"/>
<circle cx="72.3" cy="408.6" r="3.4" fill="#000" stroke="none"/>
<circle cx="84.2" cy="426.2" r="3.4" fill="#000" stroke="none"/>
<circle cx="95.2" cy="467.1" r="3.4" fill="#000" stroke="none"/>
<circle cx="105.8" cy="458.8" r="3.4" fill="#000" stroke="none"/>
<circle cx="118.3" cy="415.2" r="3.4" fill="#000" stroke="none"/>
<circle cx="130.2" cy="407.8" r="3.4" fill="#000" stroke="none"/>
<circle cx="143.4" cy="399" r="3.4" fill="#000" stroke="none"/>
<circle cx="153.1" cy="389.9" r="3.4" fill="#000" stroke="none"/>
<circle cx="163.8" cy="380.8" r="3.4" fill="#000" stroke="none"/>
<circle cx="174.2" cy="368.2" r="3.4" fill="#000" stroke="none"/>
<circle cx="185.8" cy="356.2" r="3.4" fill="#000" stroke="none"/>
<circle cx="196.9" cy="347.5" r="3.4" fill="#000" stroke="none"/>
<circle cx="208" cy="336.2" r="3.4" fill="#000" stroke="none"/>
<circle cx="219.2" cy="331.2" r="3.4" fill="#000" stroke="none"/>
<circle cx="231.1" cy="325.5" r="3.4" fill="#000" stroke="none"/>
<text x="95.8" y="431.65" font-size="9" font-family="'Liberation Serif', serif" font-weight="bold" text-anchor="middle" stroke="#000" stroke-width="0.5">*</text>
<text x="106.9" y="426.85" font-size="9" font-family="'Liberation Serif', serif" font-weight="bold" text-anchor="middle" stroke="#000" stroke-width="0.5">*</text>
<text x="119.7" y="389.55" font-size="9" font-family="'Liberation Serif', serif" font-weight="bold" text-anchor="middle" stroke="#000" stroke-width="0.5">*</text>
<text x="131.3" y="380.45" font-size="9" font-family="'Liberation Serif', serif" font-weight="bold" text-anchor="middle" stroke="#000" stroke-width="0.5">*</text>
<text x="142.3" y="378.95" font-size="9" font-family="'Liberation Serif', serif" font-weight="bold" text-anchor="middle" stroke="#000" stroke-width="0.5">*</text>
<text x="96.3" y="464.35" font-size="9" font-family="'Liberation Serif', serif" font-weight="bold" text-anchor="middle" stroke="#000" stroke-width="0.5">*</text>
<text x="0" y="0" stroke="#000" stroke-width="0.3" font-size="12.3" font-family="'Liberation Serif', serif" font-weight="normal" text-anchor="middle" textLength="72.2" lengthAdjust="spacingAndGlyphs" transform="translate(18.2,407.5) rotate(-90)">Body weight (g )</text>
<text x="130" y="563.6" font-size="11" font-family="'Liberation Serif', serif" font-weight="normal" text-anchor="start" stroke="#000" stroke-width="0.55" textLength="22" lengthAdjust="spacingAndGlyphs">Days</text>
<line x1="337" y1="381.2" x2="337" y2="399.2" stroke-width="1.1"/>
<line x1="335.3" y1="381.2" x2="338.7" y2="381.2" stroke-width="1.1"/>
<line x1="335.3" y1="399.2" x2="338.7" y2="399.2" stroke-width="1.1"/>
<line x1="349.6" y1="389.6" x2="349.6" y2="406.6" stroke-width="1.1"/>
<line x1="347.9" y1="389.6" x2="351.3" y2="389.6" stroke-width="1.1"/>
<line x1="347.9" y1="406.6" x2="351.3" y2="406.6" stroke-width="1.1"/>
<line x1="361.7" y1="397.5" x2="361.7" y2="413" stroke-width="1.1"/>
<line x1="360" y1="397.5" x2="363.4" y2="397.5" stroke-width="1.1"/>
<line x1="360" y1="413" x2="363.4" y2="413" stroke-width="1.1"/>
<line x1="372.9" y1="426" x2="372.9" y2="441.6" stroke-width="1.1"/>
<line x1="371.2" y1="426" x2="374.6" y2="426" stroke-width="1.1"/>
<line x1="371.2" y1="441.6" x2="374.6" y2="441.6" stroke-width="1.1"/>
<line x1="384.5" y1="414.4" x2="384.5" y2="432" stroke-width="1.1"/>
<line x1="382.8" y1="414.4" x2="386.2" y2="414.4" stroke-width="1.1"/>
<line x1="382.8" y1="432" x2="386.2" y2="432" stroke-width="1.1"/>
<line x1="395.7" y1="413.1" x2="395.7" y2="427.1" stroke-width="1.1"/>
<line x1="394" y1="413.1" x2="397.4" y2="413.1" stroke-width="1.1"/>
<line x1="394" y1="427.1" x2="397.4" y2="427.1" stroke-width="1.1"/>
<line x1="407.5" y1="409.6" x2="407.5" y2="423.4" stroke-width="1.1"/>
<line x1="405.8" y1="409.6" x2="409.2" y2="409.6" stroke-width="1.1"/>
<line x1="405.8" y1="423.4" x2="409.2" y2="423.4" stroke-width="1.1"/>
<line x1="419.2" y1="395.8" x2="419.2" y2="409.2" stroke-width="1.1"/>
<line x1="417.5" y1="395.8" x2="420.9" y2="395.8" stroke-width="1.1"/>
<line x1="417.5" y1="409.2" x2="420.9" y2="409.2" stroke-width="1.1"/>
<line x1="430.4" y1="381.3" x2="430.4" y2="396.7" stroke-width="1.1"/>
<line x1="428.7" y1="381.3" x2="432.1" y2="381.3" stroke-width="1.1"/>
<line x1="428.7" y1="396.7" x2="432.1" y2="396.7" stroke-width="1.1"/>
<line x1="441.9" y1="365.5" x2="441.9" y2="382" stroke-width="1.1"/>
<line x1="440.2" y1="365.5" x2="443.6" y2="365.5" stroke-width="1.1"/>
<line x1="440.2" y1="382" x2="443.6" y2="382" stroke-width="1.1"/>
<line x1="451.2" y1="360.8" x2="451.2" y2="376.2" stroke-width="1.1"/>
<line x1="449.5" y1="360.8" x2="452.9" y2="360.8" stroke-width="1.1"/>
<line x1="449.5" y1="376.2" x2="452.9" y2="376.2" stroke-width="1.1"/>
<line x1="463.1" y1="347.7" x2="463.1" y2="361.4" stroke-width="1.1"/>
<line x1="461.4" y1="347.7" x2="464.8" y2="347.7" stroke-width="1.1"/>
<line x1="461.4" y1="361.4" x2="464.8" y2="361.4" stroke-width="1.1"/>
<line x1="473.7" y1="341.5" x2="473.7" y2="357" stroke-width="1.1"/>
<line x1="472" y1="341.5" x2="475.4" y2="341.5" stroke-width="1.1"/>
<line x1="472" y1="357" x2="475.4" y2="357" stroke-width="1.1"/>
<line x1="486.2" y1="333.8" x2="486.2" y2="347.9" stroke-width="1.1"/>
<line x1="484.5" y1="333.8" x2="487.9" y2="333.8" stroke-width="1.1"/>
<line x1="484.5" y1="347.9" x2="487.9" y2="347.9" stroke-width="1.1"/>
<line x1="495.8" y1="321.7" x2="495.8" y2="334.8" stroke-width="1.1"/>
<line x1="494.1" y1="321.7" x2="497.5" y2="321.7" stroke-width="1.1"/>
<line x1="494.1" y1="334.8" x2="497.5" y2="334.8" stroke-width="1.1"/>
<line x1="508.3" y1="317.9" x2="508.3" y2="331.6" stroke-width="1.1"/>
<line x1="506.6" y1="317.9" x2="510" y2="317.9" stroke-width="1.1"/>
<line x1="506.6" y1="331.6" x2="510" y2="331.6" stroke-width="1.1"/>
<line x1="336.9" y1="385.4" x2="336.9" y2="400" stroke-width="1.1"/>
<line x1="335.2" y1="385.4" x2="338.6" y2="385.4" stroke-width="1.1"/>
<line x1="335.2" y1="400" x2="338.6" y2="400" stroke-width="1.1"/>
<line x1="349.9" y1="399.3" x2="349.9" y2="416.5" stroke-width="1.1"/>
<line x1="348.2" y1="399.3" x2="351.6" y2="399.3" stroke-width="1.1"/>
<line x1="348.2" y1="416.5" x2="351.6" y2="416.5" stroke-width="1.1"/>
<line x1="362" y1="416" x2="362" y2="428.6" stroke-width="1.1"/>
<line x1="360.3" y1="416" x2="363.7" y2="416" stroke-width="1.1"/>
<line x1="360.3" y1="428.6" x2="363.7" y2="428.6" stroke-width="1.1"/>
<line x1="373.3" y1="451.7" x2="373.3" y2="463.7" stroke-width="1.1"/>
<line x1="371.6" y1="451.7" x2="375" y2="451.7" stroke-width="1.1"/>
<line x1="371.6" y1="463.7" x2="375" y2="463.7" stroke-width="1.1"/>
<line x1="383.3" y1="447.7" x2="383.3" y2="460.6" stroke-width="1.1"/>
<line x1="381.6" y1="447.7" x2="385" y2="447.7" stroke-width="1.1"/>
<line x1="381.6" y1="460.6" x2="385" y2="460.6" stroke-width="1.1"/>
<line x1="397.1" y1="435.6" x2="397.1" y2="452.9" stroke-width="1.1"/>
<line x1="395.4" y1="435.6" x2="398.8" y2="435.6" stroke-width="1.1"/>
<line x1="395.4" y1="452.9" x2="398.8" y2="452.9" stroke-width="1.1"/>
<line x1="407.9" y1="431.2" x2="407.9" y2="446.8" stroke-width="1.1"/>
<line x1="406.2" y1="431.2" x2="409.6" y2="431.2" stroke-width="1.1"/>
<line x1="406.2" y1="446.8" x2="409.6" y2="446.8" stroke-width="1.1"/>
<line x1="421.2" y1="420.5" x2="421.2" y2="432.5" stroke-width="1.1"/>
<line x1="419.5" y1="420.5" x2="422.9" y2="420.5" stroke-width="1.1"/>
<line x1="419.5" y1="432.5" x2="422.9" y2="432.5" stroke-width="1.1"/>
<line x1="431.8" y1="401.5" x2="431.8" y2="413" stroke-width="1.1"/>
<line x1="430.1" y1="401.5" x2="433.5" y2="401.5" stroke-width="1.1"/>
<line x1="430.1" y1="413" x2="433.5" y2="413" stroke-width="1.1"/>
<line x1="441.9" y1="383.6" x2="441.9" y2="395.8" stroke-width="1.1"/>
<line x1="440.2" y1="383.6" x2="443.6" y2="383.6" stroke-width="1.1"/>
<line x1="440.2" y1="395.8" x2="443.6" y2="395.8" stroke-width="1.1"/>
<line x1="451.5" y1="374.4" x2="451.5" y2="388" stroke-width="1.1"/>
<line x1="449.8" y1="374.4" x2="453.2" y2="374.4" stroke-width="1.1"/>
<line x1="449.8" y1="388" x2="453.2" y2="388" stroke-width="1.1"/>
<line x1="463.1" y1="361.9" x2="463.1" y2="378.5" stroke-width="1.1"/>
<line x1="461.4" y1="361.9" x2="464.8" y2="361.9" stroke-width="1.1"/>
<line x1="461.4" y1="378.5" x2="464.8" y2="378.5" stroke-width="1.1"/>
<line x1="474.6" y1="354.8" x2="474.6" y2="367.3" stroke-width="1.1"/>
<line x1="472.9" y1="354.8" x2="476.3" y2="354.8" stroke-width="1.1"/>
<line x1="472.9" y1="367.3" x2="476.3" y2="367.3" stroke-width="1.1"/>
<line x1="486.2" y1="345.2" x2="486.2" y2="359.6" stroke-width="1.1"/>
<line x1="484.5" y1="345.2" x2="487.9" y2="345.2" stroke-width="1.1"/>
<line x1="484.5" y1="359.6" x2="487.9" y2="359.6" stroke-width="1.1"/>
<line x1="496.7" y1="334.4" x2="496.7" y2="353.1" stroke-width="1.1"/>
<line x1="495" y1="334.4" x2="498.4" y2="334.4" stroke-width="1.1"/>
<line x1="495" y1="353.1" x2="498.4" y2="353.1" stroke-width="1.1"/>
<line x1="508.8" y1="328.2" x2="508.8" y2="344.2" stroke-width="1.1"/>
<line x1="507.1" y1="328.2" x2="510.5" y2="328.2" stroke-width="1.1"/>
<line x1="507.1" y1="344.2" x2="510.5" y2="344.2" stroke-width="1.1"/>
<line x1="337.8" y1="381.2" x2="337.8" y2="391.2" stroke-width="1.1"/>
<line x1="336.1" y1="381.2" x2="339.5" y2="381.2" stroke-width="1.1"/>
<line x1="336.1" y1="391.2" x2="339.5" y2="391.2" stroke-width="1.1"/>
<line x1="349.6" y1="415.3" x2="349.6" y2="427.8" stroke-width="1.1"/>
<line x1="347.9" y1="415.3" x2="351.3" y2="415.3" stroke-width="1.1"/>
<line x1="347.9" y1="427.8" x2="351.3" y2="427.8" stroke-width="1.1"/>
<line x1="361.1" y1="446.8" x2="361.1" y2="461.4" stroke-width="1.1"/>
<line x1="359.4" y1="446.8" x2="362.8" y2="446.8" stroke-width="1.1"/>
<line x1="359.4" y1="461.4" x2="362.8" y2="461.4" stroke-width="1.1"/>
<line x1="372.5" y1="496.2" x2="372.5" y2="517.5" stroke-width="1.1"/>
<line x1="370.8" y1="496.2" x2="374.2" y2="496.2" stroke-width="1.1"/>
<line x1="370.8" y1="517.5" x2="374.2" y2="517.5" stroke-width="1.1"/>
<polyline points="337,390.2 349.6,400.6 361.7,407 372.9,433 384.5,423.8 395.7,419.1 407.5,417.4 419.2,403.5 430.4,390.4 441.9,377.5 451.2,370.4 463.1,355.4 473.7,351.2 486.2,341.9 495.8,328.8 508.3,325.6" fill="none" stroke-width="1.3"/>
<polyline points="336.9,391.4 349.9,405.3 362,422 373.3,457.7 383.3,455.4 397.1,443.3 407.9,437.6 421.2,426.5 431.8,408 441.9,389.6 451.5,380.4 463.1,367.9 474.6,360.8 486.2,351.2 496.7,340.4 508.8,334.2" fill="none" stroke-width="1.3"/>
<polyline points="337.8,386.2 349.6,420.3 361.1,455.4 372.5,507.5" fill="none" stroke-width="1.3"/>
<circle cx="337.8" cy="386.2" r="3.2" fill="#fff" stroke-width="1.15"/>
<circle cx="349.6" cy="420.3" r="3.2" fill="#fff" stroke-width="1.15"/>
<circle cx="361.1" cy="455.4" r="3.2" fill="#fff" stroke-width="1.15"/>
<circle cx="372.5" cy="507.5" r="3.2" fill="#fff" stroke-width="1.15"/>
<path d="M337,386.84 L340.5,392.44 L333.5,392.44Z" stroke="none" fill="#000"/>
<path d="M349.6,397.24 L353.1,402.84 L346.1,402.84Z" stroke="none" fill="#000"/>
<path d="M361.7,403.64 L365.2,409.24 L358.2,409.24Z" stroke="none" fill="#000"/>
<path d="M372.9,429.64 L376.4,435.24 L369.4,435.24Z" stroke="none" fill="#000"/>
<path d="M384.5,420.44 L388,426.04 L381,426.04Z" stroke="none" fill="#000"/>
<path d="M395.7,415.74 L399.2,421.34 L392.2,421.34Z" stroke="none" fill="#000"/>
<path d="M407.5,414.04 L411,419.64 L404,419.64Z" stroke="none" fill="#000"/>
<path d="M419.2,400.14 L422.7,405.74 L415.7,405.74Z" stroke="none" fill="#000"/>
<path d="M430.4,387.04 L433.9,392.64 L426.9,392.64Z" stroke="none" fill="#000"/>
<path d="M441.9,374.14 L445.4,379.74 L438.4,379.74Z" stroke="none" fill="#000"/>
<path d="M451.2,367.04 L454.7,372.64 L447.7,372.64Z" stroke="none" fill="#000"/>
<path d="M463.1,352.04 L466.6,357.64 L459.6,357.64Z" stroke="none" fill="#000"/>
<path d="M473.7,347.84 L477.2,353.44 L470.2,353.44Z" stroke="none" fill="#000"/>
<path d="M486.2,338.54 L489.7,344.14 L482.7,344.14Z" stroke="none" fill="#000"/>
<path d="M495.8,325.44 L499.3,331.04 L492.3,331.04Z" stroke="none" fill="#000"/>
<path d="M508.3,322.24 L511.8,327.84 L504.8,327.84Z" stroke="none" fill="#000"/>
<circle cx="336.9" cy="391.4" r="3.4" fill="#000" stroke="none"/>
<circle cx="349.9" cy="405.3" r="3.4" fill="#000" stroke="none"/>
<circle cx="362" cy="422" r="3.4" fill="#000" stroke="none"/>
<circle cx="373.3" cy="457.7" r="3.4" fill="#000" stroke="none"/>
<circle cx="383.3" cy="455.4" r="3.4" fill="#000" stroke="none"/>
<circle cx="397.1" cy="443.3" r="3.4" fill="#000" stroke="none"/>
<circle cx="407.9" cy="437.6" r="3.4" fill="#000" stroke="none"/>
<circle cx="421.2" cy="426.5" r="3.4" fill="#000" stroke="none"/>
<circle cx="431.8" cy="408" r="3.4" fill="#000" stroke="none"/>
<circle cx="441.9" cy="389.6" r="3.4" fill="#000" stroke="none"/>
<circle cx="451.5" cy="380.4" r="3.4" fill="#000" stroke="none"/>
<circle cx="463.1" cy="367.9" r="3.4" fill="#000" stroke="none"/>
<circle cx="474.6" cy="360.8" r="3.4" fill="#000" stroke="none"/>
<circle cx="486.2" cy="351.2" r="3.4" fill="#000" stroke="none"/>
<circle cx="496.7" cy="340.4" r="3.4" fill="#000" stroke="none"/>
<circle cx="508.8" cy="334.2" r="3.4" fill="#000" stroke="none"/>
<text x="366.7" y="397.25" font-size="9" font-family="'Liberation Serif', serif" font-weight="bold" text-anchor="middle" stroke="#000" stroke-width="0.5">*</text>
<text x="376.7" y="426.35" font-size="9" font-family="'Liberation Serif', serif" font-weight="bold" text-anchor="middle" stroke="#000" stroke-width="0.5">*</text>
<text x="387.6" y="416.25" font-size="9" font-family="'Liberation Serif', serif" font-weight="bold" text-anchor="middle" stroke="#000" stroke-width="0.5">*</text>
<text x="399.2" y="413.65" font-size="9" font-family="'Liberation Serif', serif" font-weight="bold" text-anchor="middle" stroke="#000" stroke-width="0.5">*</text>
<text x="410.4" y="410.25" font-size="9" font-family="'Liberation Serif', serif" font-weight="bold" text-anchor="middle" stroke="#000" stroke-width="0.5">*</text>
<text x="422" y="394.95" font-size="9" font-family="'Liberation Serif', serif" font-weight="bold" text-anchor="middle" stroke="#000" stroke-width="0.5">*</text>
<text x="432.8" y="381.55" font-size="9" font-family="'Liberation Serif', serif" font-weight="bold" text-anchor="middle" stroke="#000" stroke-width="0.5">*</text>
<text x="375.8" y="455.75" font-size="9" font-family="'Liberation Serif', serif" font-weight="bold" text-anchor="middle" stroke="#000" stroke-width="0.5">*</text>
<text x="0" y="0" stroke="#000" stroke-width="0.3" font-size="12.3" font-family="'Liberation Serif', serif" font-weight="normal" text-anchor="middle" textLength="75" lengthAdjust="spacingAndGlyphs" transform="translate(296.2,407) rotate(-90)">Body weight (g )</text>
<text x="407" y="558.6" font-size="11" font-family="'Liberation Serif', serif" font-weight="normal" text-anchor="start" stroke="#000" stroke-width="0.55" textLength="21.8" lengthAdjust="spacingAndGlyphs">Days</text>
</g>
<g stroke="#000" fill="#000">
<line x1="48" y1="620" x2="48" y2="828.5" stroke-width="2"/>
<line x1="47" y1="827.5" x2="228" y2="827.5" stroke-width="2"/>
<line x1="45.4" y1="622" x2="48" y2="622" stroke-width="1.9"/>
<text x="35" y="625.4" font-size="7.2" font-family="'Liberation Serif', serif" font-weight="normal" text-anchor="middle" stroke="#000" stroke-width="0.5" textLength="10.2" lengthAdjust="spacingAndGlyphs">140</text>
<line x1="45.4" y1="651.6" x2="48" y2="651.6" stroke-width="1.9"/>
<text x="33.1" y="655" font-size="7.2" font-family="'Liberation Serif', serif" font-weight="normal" text-anchor="middle" stroke="#000" stroke-width="0.5" textLength="10.2" lengthAdjust="spacingAndGlyphs">120</text>
<line x1="45.4" y1="680.5" x2="48" y2="680.5" stroke-width="1.9"/>
<text x="34.9" y="683.9" font-size="7.2" font-family="'Liberation Serif', serif" font-weight="normal" text-anchor="middle" stroke="#000" stroke-width="0.5" textLength="10.2" lengthAdjust="spacingAndGlyphs">100</text>
<line x1="45.4" y1="709.7" x2="48" y2="709.7" stroke-width="1.9"/>
<text x="35.5" y="713.1" font-size="7.2" font-family="'Liberation Serif', serif" font-weight="normal" text-anchor="middle" stroke="#000" stroke-width="0.5" textLength="6.6" lengthAdjust="spacingAndGlyphs">80</text>
<line x1="45.4" y1="740.4" x2="48" y2="740.4" stroke-width="1.9"/>
<text x="35.5" y="743.8" font-size="7.2" font-family="'Liberation Serif', serif" font-weight="normal" text-anchor="middle" stroke="#000" stroke-width="0.5" textLength="6.6" lengthAdjust="spacingAndGlyphs">60</text>
<line x1="45.4" y1="767.6" x2="48" y2="767.6" stroke-width="1.9"/>
<text x="35.3" y="771" font-size="7.2" font-family="'Liberation Serif', serif" font-weight="normal" text-anchor="middle" stroke="#000" stroke-width="0.5" textLength="6.6" lengthAdjust="spacingAndGlyphs">40</text>
<line x1="45.4" y1="797.3" x2="48" y2="797.3" stroke-width="1.9"/>
<text x="35.3" y="800.7" font-size="7.2" font-family="'Liberation Serif', serif" font-weight="normal" text-anchor="middle" stroke="#000" stroke-width="0.5" textLength="6.6" lengthAdjust="spacingAndGlyphs">20</text>
<line x1="45.4" y1="828.8" x2="48" y2="828.8" stroke-width="1.9"/>
<text x="37" y="832.2" font-size="7.2" font-family="'Liberation Serif', serif" font-weight="normal" text-anchor="middle" stroke="#000" stroke-width="0.5" textLength="3.6" lengthAdjust="spacingAndGlyphs">0</text>
<line x1="57.5" y1="827.5" x2="57.5" y2="832" stroke-width="1.8"/>
<line x1="68.7" y1="827.5" x2="68.7" y2="832" stroke-width="1.8"/>
<line x1="79.9" y1="827.5" x2="79.9" y2="832" stroke-width="1.8"/>
<line x1="91.1" y1="827.5" x2="91.1" y2="832" stroke-width="1.8"/>
<line x1="102.3" y1="827.5" x2="102.3" y2="832" stroke-width="1.8"/>
<line x1="113.5" y1="827.5" x2="113.5" y2="832" stroke-width="1.8"/>
<line x1="124.7" y1="827.5" x2="124.7" y2="832" stroke-width="1.8"/>
<line x1="135.9" y1="827.5" x2="135.9" y2="832" stroke-width="1.8"/>
<line x1="147.1" y1="827.5" x2="147.1" y2="832" stroke-width="1.8"/>
<line x1="158.3" y1="827.5" x2="158.3" y2="832" stroke-width="1.8"/>
<line x1="169.5" y1="827.5" x2="169.5" y2="832" stroke-width="1.8"/>
<line x1="180.7" y1="827.5" x2="180.7" y2="832" stroke-width="1.8"/>
<line x1="191.9" y1="827.5" x2="191.9" y2="832" stroke-width="1.8"/>
<line x1="203.1" y1="827.5" x2="203.1" y2="832" stroke-width="1.8"/>
<line x1="214.3" y1="827.5" x2="214.3" y2="832" stroke-width="1.8"/>
<line x1="225.5" y1="827.5" x2="225.5" y2="832" stroke-width="1.8"/>
<text x="57" y="840.3" font-size="7.6" font-family="'Liberation Serif', serif" font-weight="normal" text-anchor="middle" stroke="#000" stroke-width="0.4" textLength="3.7" lengthAdjust="spacingAndGlyphs">0</text>
<text x="91.3" y="840.3" font-size="7.6" font-family="'Liberation Serif', serif" font-weight="normal" text-anchor="middle" stroke="#000" stroke-width="0.4" textLength="3.7" lengthAdjust="spacingAndGlyphs">9</text>
<text x="125.5" y="840.3" font-size="7.6" font-family="'Liberation Serif', serif" font-weight="normal" text-anchor="middle" stroke="#000" stroke-width="0.4" textLength="7" lengthAdjust="spacingAndGlyphs">18</text>
<text x="160" y="840.3" font-size="7.6" font-family="'Liberation Serif', serif" font-weight="normal" text-anchor="middle" stroke="#000" stroke-width="0.4" textLength="7" lengthAdjust="spacingAndGlyphs">27</text>
<text x="192.5" y="840.3" font-size="7.6" font-family="'Liberation Serif', serif" font-weight="normal" text-anchor="middle" stroke="#000" stroke-width="0.4" textLength="7" lengthAdjust="spacingAndGlyphs">36</text>
<text x="225" y="840.3" font-size="7.6" font-family="'Liberation Serif', serif" font-weight="normal" text-anchor="middle" stroke="#000" stroke-width="0.4" textLength="7" lengthAdjust="spacingAndGlyphs">45</text>
<text x="49.3" y="610.7" font-size="16" font-family="'Liberation Sans', sans-serif" font-weight="bold" text-anchor="start" stroke="#000" stroke-width="0.3" textLength="17.3" lengthAdjust="spacingAndGlyphs">Ci</text>
<text x="71.3" y="609.18" font-size="11.16" font-family="'Liberation Serif', serif" font-weight="normal" text-anchor="start" stroke="#000" stroke-width="0.25">(</text>
<text x="100.7" y="609.18" font-size="11.16" font-family="'Liberation Serif', serif" font-weight="normal" text-anchor="start" stroke="#000" stroke-width="0.25">)</text>
<text x="74.5" y="608.9" font-size="9.09" font-family="'Liberation Serif', serif" font-weight="normal" text-anchor="start" stroke="#000" stroke-width="0.3" textLength="21" lengthAdjust="spacingAndGlyphs">1x10</text>
<text x="96.3" y="604.5" font-size="9.85" font-family="'Liberation Serif', serif" font-weight="normal" text-anchor="start" stroke="#000" stroke-width="0.3" textLength="4.2" lengthAdjust="spacingAndGlyphs">7</text>
<line x1="72.5" y1="630" x2="85.5" y2="630" stroke-width="1.2"/>
<path d="M78,626.65 L81.8,632.73 L74.2,632.73Z" stroke="none" fill="#000"/>
<text x="90.8" y="632.6" font-size="7.5" font-family="'Liberation Serif', serif" font-weight="normal" text-anchor="start" stroke="#000" stroke-width="0.4" textLength="73.6" lengthAdjust="spacingAndGlyphs">Syngeneic&#160;&#160;/ SMNC 1x10</text>
<text x="164.8" y="629.1" font-size="6" font-family="'Liberation Serif', serif" font-weight="normal" text-anchor="start" stroke="#000" stroke-width="0.25">7</text>
<line x1="72.5" y1="640.6" x2="85.5" y2="640.6" stroke-width="1.2"/>
<circle cx="78" cy="640.6" r="3.1" fill="#000" stroke="none"/>
<text x="90.8" y="642.8" font-size="7.5" font-family="'Liberation Serif', serif" font-weight="normal" text-anchor="start" stroke="#000" stroke-width="0.4" textLength="69.8" lengthAdjust="spacingAndGlyphs">TAK(+) +&#160;&#160;SMNC 1x10</text>
<text x="161" y="639.3" font-size="6" font-family="'Liberation Serif', serif" font-weight="normal" text-anchor="start" stroke="#000" stroke-width="0.25">7</text>
<line x1="71.3" y1="650.6" x2="85.5" y2="650.6" stroke-width="1.2"/>
<circle cx="78" cy="650.6" r="2.9" fill="#fff" stroke-width="1.2"/>
<text x="90.8" y="653" font-size="7.5" font-family="'Liberation Serif', serif" font-weight="normal" text-anchor="start" stroke="#000" stroke-width="0.4" textLength="62.7" lengthAdjust="spacingAndGlyphs">GVHD / SMNC 1x10</text>
<text x="153.9" y="649.5" font-size="6" font-family="'Liberation Serif', serif" font-weight="normal" text-anchor="start" stroke="#000" stroke-width="0.25">7</text>
<line x1="327" y1="620.5" x2="327" y2="829" stroke-width="2"/>
<line x1="326" y1="828" x2="505.7" y2="828" stroke-width="2"/>
<line x1="324.4" y1="622" x2="327" y2="622" stroke-width="1.9"/>
<text x="314" y="625.4" font-size="7.2" font-family="'Liberation Serif', serif" font-weight="normal" text-anchor="middle" stroke="#000" stroke-width="0.5" textLength="10.2" lengthAdjust="spacingAndGlyphs">140</text>
<line x1="324.4" y1="652" x2="327" y2="652" stroke-width="1.9"/>
<text x="312.9" y="655.4" font-size="7.2" font-family="'Liberation Serif', serif" font-weight="normal" text-anchor="middle" stroke="#000" stroke-width="0.5" textLength="10.2" lengthAdjust="spacingAndGlyphs">120</text>
<line x1="324.4" y1="681.3" x2="327" y2="681.3" stroke-width="1.9"/>
<text x="314" y="684.7" font-size="7.2" font-family="'Liberation Serif', serif" font-weight="normal" text-anchor="middle" stroke="#000" stroke-width="0.5" textLength="10.2" lengthAdjust="spacingAndGlyphs">100</text>
<line x1="324.4" y1="710.6" x2="327" y2="710.6" stroke-width="1.9"/>
<text x="314.9" y="714" font-size="7.2" font-family="'Liberation Serif', serif" font-weight="normal" text-anchor="middle" stroke="#000" stroke-width="0.5" textLength="6.6" lengthAdjust="spacingAndGlyphs">80</text>
<line x1="324.4" y1="741" x2="327" y2="741" stroke-width="1.9"/>
<text x="314.8" y="744.4" font-size="7.2" font-family="'Liberation Serif', serif" font-weight="normal" text-anchor="middle" stroke="#000" stroke-width="0.5" textLength="6.6" lengthAdjust="spacingAndGlyphs">60</text>
<line x1="324.4" y1="768.4" x2="327" y2="768.4" stroke-width="1.9"/>
<text x="314.8" y="771.8" font-size="7.2" font-family="'Liberation Serif', serif" font-weight="normal" text-anchor="middle" stroke="#000" stroke-width="0.5" textLength="6.6" lengthAdjust="spacingAndGlyphs">40</text>
<line x1="324.4" y1="797.5" x2="327" y2="797.5" stroke-width="1.9"/>
<text x="314.6" y="800.9" font-size="7.2" font-family="'Liberation Serif', serif" font-weight="normal" text-anchor="middle" stroke="#000" stroke-width="0.5" textLength="6.6" lengthAdjust="spacingAndGlyphs">20</text>
<line x1="324.4" y1="829.1" x2="327" y2="829.1" stroke-width="1.9"/>
<text x="316.5" y="832.5" font-size="7.2" font-family="'Liberation Serif', serif" font-weight="normal" text-anchor="middle" stroke="#000" stroke-width="0.5" textLength="3.6" lengthAdjust="spacingAndGlyphs">0</text>
<line x1="336.25" y1="828" x2="336.25" y2="832.5" stroke-width="1.8"/>
<line x1="347.45" y1="828" x2="347.45" y2="832.5" stroke-width="1.8"/>
<line x1="358.65" y1="828" x2="358.65" y2="832.5" stroke-width="1.8"/>
<line x1="369.85" y1="828" x2="369.85" y2="832.5" stroke-width="1.8"/>
<line x1="381.05" y1="828" x2="381.05" y2="832.5" stroke-width="1.8"/>
<line x1="392.25" y1="828" x2="392.25" y2="832.5" stroke-width="1.8"/>
<line x1="403.45" y1="828" x2="403.45" y2="832.5" stroke-width="1.8"/>
<line x1="414.65" y1="828" x2="414.65" y2="832.5" stroke-width="1.8"/>
<line x1="425.85" y1="828" x2="425.85" y2="832.5" stroke-width="1.8"/>
<line x1="437.05" y1="828" x2="437.05" y2="832.5" stroke-width="1.8"/>
<line x1="448.25" y1="828" x2="448.25" y2="832.5" stroke-width="1.8"/>
<line x1="459.45" y1="828" x2="459.45" y2="832.5" stroke-width="1.8"/>
<line x1="470.65" y1="828" x2="470.65" y2="832.5" stroke-width="1.8"/>
<line x1="481.85" y1="828" x2="481.85" y2="832.5" stroke-width="1.8"/>
<line x1="493.05" y1="828" x2="493.05" y2="832.5" stroke-width="1.8"/>
<line x1="504.25" y1="828" x2="504.25" y2="832.5" stroke-width="1.8"/>
<text x="336.3" y="840.6" font-size="7.6" font-family="'Liberation Serif', serif" font-weight="normal" text-anchor="middle" stroke="#000" stroke-width="0.4" textLength="3.7" lengthAdjust="spacingAndGlyphs">0</text>
<text x="369.5" y="840.6" font-size="7.6" font-family="'Liberation Serif', serif" font-weight="normal" text-anchor="middle" stroke="#000" stroke-width="0.4" textLength="3.7" lengthAdjust="spacingAndGlyphs">9</text>
<text x="403.6" y="840.6" font-size="7.6" font-family="'Liberation Serif', serif" font-weight="normal" text-anchor="middle" stroke="#000" stroke-width="0.4" textLength="7" lengthAdjust="spacingAndGlyphs">18</text>
<text x="438.8" y="840.6" font-size="7.6" font-family="'Liberation Serif', serif" font-weight="normal" text-anchor="middle" stroke="#000" stroke-width="0.4" textLength="7" lengthAdjust="spacingAndGlyphs">27</text>
<text x="470.4" y="840.6" font-size="7.6" font-family="'Liberation Serif', serif" font-weight="normal" text-anchor="middle" stroke="#000" stroke-width="0.4" textLength="7" lengthAdjust="spacingAndGlyphs">36</text>
<text x="503.4" y="840.6" font-size="7.6" font-family="'Liberation Serif', serif" font-weight="normal" text-anchor="middle" stroke="#000" stroke-width="0.4" textLength="7" lengthAdjust="spacingAndGlyphs">45</text>
<text x="327.3" y="610.5" font-size="16" font-family="'Liberation Sans', sans-serif" font-weight="bold" text-anchor="start" stroke="#000" stroke-width="0.3" textLength="23" lengthAdjust="spacingAndGlyphs">Cii</text>
<text x="355.2" y="606.87" font-size="10.7" font-family="'Liberation Serif', serif" font-weight="normal" text-anchor="start" stroke="#000" stroke-width="0.25">(</text>
<text x="385.9" y="606.87" font-size="10.7" font-family="'Liberation Serif', serif" font-weight="normal" text-anchor="start" stroke="#000" stroke-width="0.25">)</text>
<text x="358.5" y="606.9" font-size="9.7" font-family="'Liberation Serif', serif" font-weight="normal" text-anchor="start" stroke="#000" stroke-width="0.3" textLength="22.6" lengthAdjust="spacingAndGlyphs">5x10</text>
<text x="381.5" y="602.9" font-size="8.64" font-family="'Liberation Serif', serif" font-weight="normal" text-anchor="start" stroke="#000" stroke-width="0.3" textLength="4.2" lengthAdjust="spacingAndGlyphs">7</text>
<line x1="343.7" y1="627.5" x2="355" y2="627.5" stroke-width="1.2"/>
<path d="M349.5,624.15 L353.3,630.23 L345.7,630.23Z" stroke="none" fill="#000"/>
<text x="360.8" y="630.2" font-size="7.5" font-family="'Liberation Serif', serif" font-weight="normal" text-anchor="start" stroke="#000" stroke-width="0.4" textLength="72.7" lengthAdjust="spacingAndGlyphs">Syngeneic&#160;&#160;/ SMNC 5x10</text>
<text x="433.9" y="626.7" font-size="6" font-family="'Liberation Serif', serif" font-weight="normal" text-anchor="start" stroke="#000" stroke-width="0.25">7</text>
<line x1="343.7" y1="638" x2="355" y2="638" stroke-width="1.2"/>
<circle cx="349.5" cy="638" r="3.1" fill="#000" stroke="none"/>
<text x="360.8" y="640.4" font-size="7.5" font-family="'Liberation Serif', serif" font-weight="normal" text-anchor="start" stroke="#000" stroke-width="0.4" textLength="69.8" lengthAdjust="spacingAndGlyphs">TAK(+) +&#160;&#160;SMNC 5x10</text>
<text x="431" y="636.9" font-size="6" font-family="'Liberation Serif', serif" font-weight="normal" text-anchor="start" stroke="#000" stroke-width="0.25">7</text>
<line x1="341.2" y1="648.5" x2="355" y2="648.5" stroke-width="1.2"/>
<circle cx="349.5" cy="648.5" r="2.9" fill="#fff" stroke-width="1.2"/>
<text x="360.8" y="650.1" font-size="7.5" font-family="'Liberation Serif', serif" font-weight="normal" text-anchor="start" stroke="#000" stroke-width="0.4" textLength="63.1" lengthAdjust="spacingAndGlyphs">GVHD / SMNC 5x10</text>
<text x="424.3" y="646.6" font-size="6" font-family="'Liberation Serif', serif" font-weight="normal" text-anchor="start" stroke="#000" stroke-width="0.25">7</text>
<line x1="57.7" y1="664.8" x2="57.7" y2="683.8" stroke-width="1.1"/>
<line x1="56" y1="664.8" x2="59.4" y2="664.8" stroke-width="1.1"/>
<line x1="56" y1="683.8" x2="59.4" y2="683.8" stroke-width="1.1"/>
<line x1="73.8" y1="689.5" x2="73.8" y2="701.2" stroke-width="1.1"/>
<line x1="72.1" y1="689.5" x2="75.5" y2="689.5" stroke-width="1.1"/>
<line x1="72.1" y1="701.2" x2="75.5" y2="701.2" stroke-width="1.1"/>
<line x1="83.8" y1="720.4" x2="83.8" y2="743.5" stroke-width="1.1"/>
<line x1="82.1" y1="720.4" x2="85.5" y2="720.4" stroke-width="1.1"/>
<line x1="82.1" y1="743.5" x2="85.5" y2="743.5" stroke-width="1.1"/>
<line x1="93.8" y1="714.6" x2="93.8" y2="733.1" stroke-width="1.1"/>
<line x1="92.1" y1="714.6" x2="95.5" y2="714.6" stroke-width="1.1"/>
<line x1="92.1" y1="733.1" x2="95.5" y2="733.1" stroke-width="1.1"/>
<line x1="106.3" y1="717.5" x2="106.3" y2="735.8" stroke-width="1.1"/>
<line x1="104.6" y1="717.5" x2="108" y2="717.5" stroke-width="1.1"/>
<line x1="104.6" y1="735.8" x2="108" y2="735.8" stroke-width="1.1"/>
<line x1="116.9" y1="707.9" x2="116.9" y2="722.3" stroke-width="1.1"/>
<line x1="115.2" y1="707.9" x2="118.6" y2="707.9" stroke-width="1.1"/>
<line x1="115.2" y1="722.3" x2="118.6" y2="722.3" stroke-width="1.1"/>
<line x1="129.4" y1="711.7" x2="129.4" y2="726.8" stroke-width="1.1"/>
<line x1="127.7" y1="711.7" x2="131.1" y2="711.7" stroke-width="1.1"/>
<line x1="127.7" y1="726.8" x2="131.1" y2="726.8" stroke-width="1.1"/>
<line x1="139.5" y1="714.2" x2="139.5" y2="733" stroke-width="1.1"/>
<line x1="137.8" y1="714.2" x2="141.2" y2="714.2" stroke-width="1.1"/>
<line x1="137.8" y1="733" x2="141.2" y2="733" stroke-width="1.1"/>
<line x1="150.5" y1="709.5" x2="150.5" y2="728" stroke-width="1.1"/>
<line x1="148.8" y1="709.5" x2="152.2" y2="709.5" stroke-width="1.1"/>
<line x1="148.8" y1="728" x2="152.2" y2="728" stroke-width="1.1"/>
<line x1="163" y1="712.5" x2="163" y2="731" stroke-width="1.1"/>
<line x1="161.3" y1="712.5" x2="164.7" y2="712.5" stroke-width="1.1"/>
<line x1="161.3" y1="731" x2="164.7" y2="731" stroke-width="1.1"/>
<line x1="175" y1="709.5" x2="175" y2="725.5" stroke-width="1.1"/>
<line x1="173.3" y1="709.5" x2="176.7" y2="709.5" stroke-width="1.1"/>
<line x1="173.3" y1="725.5" x2="176.7" y2="725.5" stroke-width="1.1"/>
<line x1="185.5" y1="710.5" x2="185.5" y2="726" stroke-width="1.1"/>
<line x1="183.8" y1="710.5" x2="187.2" y2="710.5" stroke-width="1.1"/>
<line x1="183.8" y1="726" x2="187.2" y2="726" stroke-width="1.1"/>
<line x1="196.25" y1="715.25" x2="196.25" y2="732.25" stroke-width="1.1"/>
<line x1="194.55" y1="715.25" x2="197.95" y2="715.25" stroke-width="1.1"/>
<line x1="194.55" y1="732.25" x2="197.95" y2="732.25" stroke-width="1.1"/>
<line x1="206.25" y1="713" x2="206.25" y2="731" stroke-width="1.1"/>
<line x1="204.55" y1="713" x2="207.95" y2="713" stroke-width="1.1"/>
<line x1="204.55" y1="731" x2="207.95" y2="731" stroke-width="1.1"/>
<line x1="218.75" y1="713" x2="218.75" y2="730.5" stroke-width="1.1"/>
<line x1="217.05" y1="713" x2="220.45" y2="713" stroke-width="1.1"/>
<line x1="217.05" y1="730.5" x2="220.45" y2="730.5" stroke-width="1.1"/>
<line x1="228" y1="707.5" x2="228" y2="728.5" stroke-width="1.1"/>
<line x1="226.3" y1="707.5" x2="229.7" y2="707.5" stroke-width="1.1"/>
<line x1="226.3" y1="728.5" x2="229.7" y2="728.5" stroke-width="1.1"/>
<line x1="58.5" y1="647.8" x2="58.5" y2="666.8" stroke-width="1.1"/>
<line x1="56.8" y1="647.8" x2="60.2" y2="647.8" stroke-width="1.1"/>
<line x1="56.8" y1="666.8" x2="60.2" y2="666.8" stroke-width="1.1"/>
<line x1="72.3" y1="701.7" x2="72.3" y2="715.7" stroke-width="1.1"/>
<line x1="70.6" y1="701.7" x2="74" y2="701.7" stroke-width="1.1"/>
<line x1="70.6" y1="715.7" x2="74" y2="715.7" stroke-width="1.1"/>
<line x1="83.8" y1="748.3" x2="83.8" y2="779" stroke-width="1.1"/>
<line x1="82.1" y1="748.3" x2="85.5" y2="748.3" stroke-width="1.1"/>
<line x1="82.1" y1="779" x2="85.5" y2="779" stroke-width="1.1"/>
<line x1="93.5" y1="748" x2="93.5" y2="788.7" stroke-width="1.1"/>
<line x1="91.8" y1="748" x2="95.2" y2="748" stroke-width="1.1"/>
<line x1="91.8" y1="788.7" x2="95.2" y2="788.7" stroke-width="1.1"/>
<line x1="106.9" y1="744.4" x2="106.9" y2="765.6" stroke-width="1.1"/>
<line x1="105.2" y1="744.4" x2="108.6" y2="744.4" stroke-width="1.1"/>
<line x1="105.2" y1="765.6" x2="108.6" y2="765.6" stroke-width="1.1"/>
<line x1="117.3" y1="732" x2="117.3" y2="746.3" stroke-width="1.1"/>
<line x1="115.6" y1="732" x2="119" y2="732" stroke-width="1.1"/>
<line x1="115.6" y1="746.3" x2="119" y2="746.3" stroke-width="1.1"/>
<line x1="130" y1="736.5" x2="130" y2="753" stroke-width="1.1"/>
<line x1="128.3" y1="736.5" x2="131.7" y2="736.5" stroke-width="1.1"/>
<line x1="128.3" y1="753" x2="131.7" y2="753" stroke-width="1.1"/>
<line x1="141.25" y1="733.5" x2="141.25" y2="760.5" stroke-width="1.1"/>
<line x1="139.55" y1="733.5" x2="142.95" y2="733.5" stroke-width="1.1"/>
<line x1="139.55" y1="760.5" x2="142.95" y2="760.5" stroke-width="1.1"/>
<line x1="150.5" y1="734" x2="150.5" y2="752.5" stroke-width="1.1"/>
<line x1="148.8" y1="734" x2="152.2" y2="734" stroke-width="1.1"/>
<line x1="148.8" y1="752.5" x2="152.2" y2="752.5" stroke-width="1.1"/>
<line x1="163" y1="731" x2="163" y2="750" stroke-width="1.1"/>
<line x1="161.3" y1="731" x2="164.7" y2="731" stroke-width="1.1"/>
<line x1="161.3" y1="750" x2="164.7" y2="750" stroke-width="1.1"/>
<line x1="175" y1="726" x2="175" y2="745.5" stroke-width="1.1"/>
<line x1="173.3" y1="726" x2="176.7" y2="726" stroke-width="1.1"/>
<line x1="173.3" y1="745.5" x2="176.7" y2="745.5" stroke-width="1.1"/>
<line x1="185.5" y1="726" x2="185.5" y2="742.5" stroke-width="1.1"/>
<line x1="183.8" y1="726" x2="187.2" y2="726" stroke-width="1.1"/>
<line x1="183.8" y1="742.5" x2="187.2" y2="742.5" stroke-width="1.1"/>
<line x1="196.25" y1="725.25" x2="196.25" y2="751.25" stroke-width="1.1"/>
<line x1="194.55" y1="725.25" x2="197.95" y2="725.25" stroke-width="1.1"/>
<line x1="194.55" y1="751.25" x2="197.95" y2="751.25" stroke-width="1.1"/>
<line x1="206.25" y1="729.5" x2="206.25" y2="745.5" stroke-width="1.1"/>
<line x1="204.55" y1="729.5" x2="207.95" y2="729.5" stroke-width="1.1"/>
<line x1="204.55" y1="745.5" x2="207.95" y2="745.5" stroke-width="1.1"/>
<line x1="219.5" y1="727.75" x2="219.5" y2="741.25" stroke-width="1.1"/>
<line x1="217.8" y1="727.75" x2="221.2" y2="727.75" stroke-width="1.1"/>
<line x1="217.8" y1="741.25" x2="221.2" y2="741.25" stroke-width="1.1"/>
<line x1="228.75" y1="725.25" x2="228.75" y2="741.25" stroke-width="1.1"/>
<line x1="227.05" y1="725.25" x2="230.45" y2="725.25" stroke-width="1.1"/>
<line x1="227.05" y1="741.25" x2="230.45" y2="741.25" stroke-width="1.1"/>
<line x1="56.9" y1="657.4" x2="56.9" y2="673.4" stroke-width="1.1"/>
<line x1="55.2" y1="657.4" x2="58.6" y2="657.4" stroke-width="1.1"/>
<line x1="55.2" y1="673.4" x2="58.6" y2="673.4" stroke-width="1.1"/>
<line x1="66.6" y1="693.2" x2="66.6" y2="703.2" stroke-width="1.1"/>
<line x1="64.9" y1="693.2" x2="68.3" y2="693.2" stroke-width="1.1"/>
<line x1="64.9" y1="703.2" x2="68.3" y2="703.2" stroke-width="1.1"/>
<line x1="82.5" y1="793.5" x2="82.5" y2="818" stroke-width="1.1"/>
<line x1="80.8" y1="793.5" x2="84.2" y2="793.5" stroke-width="1.1"/>
<line x1="80.8" y1="818" x2="84.2" y2="818" stroke-width="1.1"/>
<line x1="94.5" y1="799.25" x2="94.5" y2="820.05" stroke-width="1.1"/>
<line x1="92.8" y1="799.25" x2="96.2" y2="799.25" stroke-width="1.1"/>
<line x1="92.8" y1="820.05" x2="96.2" y2="820.05" stroke-width="1.1"/>
<polyline points="57.7,670.8 73.8,696.2 83.8,729.6 93.8,727.1 106.3,727.1 116.9,714.6 129.4,720.8 139.5,727 150.5,722 163,725 175,719.5 185.5,720 196.25,726.25 206.25,725 218.75,724.5 228,722.5" fill="none" stroke-width="1.3"/>
<polyline points="58.5,660.8 72.3,707.7 83.8,762.3 93.5,766.9 106.9,753.5 117.3,738.7 130,742.5 141.25,739.5 150.5,740 163,737 175,732 185.5,732 196.25,731.25 206.25,735.5 219.5,733.75 228.75,731.25" fill="none" stroke-width="1.3"/>
<polyline points="56.9,665.4 66.6,698.2 82.5,805.5 94.5,808.75" fill="none" stroke-width="1.3"/>
<circle cx="56.9" cy="665.4" r="3.2" fill="#fff" stroke-width="1.15"/>
<circle cx="66.6" cy="698.2" r="3.2" fill="#fff" stroke-width="1.15"/>
<circle cx="82.5" cy="805.5" r="3.2" fill="#fff" stroke-width="1.15"/>
<circle cx="94.5" cy="808.75" r="3.2" fill="#fff" stroke-width="1.15"/>
<path d="M57.7,667.44 L61.2,673.04 L54.2,673.04Z" stroke="none" fill="#000"/>
<path d="M73.8,692.84 L77.3,698.44 L70.3,698.44Z" stroke="none" fill="#000"/>
<path d="M83.8,726.24 L87.3,731.84 L80.3,731.84Z" stroke="none" fill="#000"/>
<path d="M93.8,723.74 L97.3,729.34 L90.3,729.34Z" stroke="none" fill="#000"/>
<path d="M106.3,723.74 L109.8,729.34 L102.8,729.34Z" stroke="none" fill="#000"/>
<path d="M116.9,711.24 L120.4,716.84 L113.4,716.84Z" stroke="none" fill="#000"/>
<path d="M129.4,717.44 L132.9,723.04 L125.9,723.04Z" stroke="none" fill="#000"/>
<path d="M139.5,723.64 L143,729.24 L136,729.24Z" stroke="none" fill="#000"/>
<path d="M150.5,718.64 L154,724.24 L147,724.24Z" stroke="none" fill="#000"/>
<path d="M163,721.64 L166.5,727.24 L159.5,727.24Z" stroke="none" fill="#000"/>
<path d="M175,716.14 L178.5,721.74 L171.5,721.74Z" stroke="none" fill="#000"/>
<path d="M185.5,716.64 L189,722.24 L182,722.24Z" stroke="none" fill="#000"/>
<path d="M196.25,722.89 L199.75,728.49 L192.75,728.49Z" stroke="none" fill="#000"/>
<path d="M206.25,721.64 L209.75,727.24 L202.75,727.24Z" stroke="none" fill="#000"/>
<path d="M218.75,721.14 L222.25,726.74 L215.25,726.74Z" stroke="none" fill="#000"/>
<path d="M228,719.14 L231.5,724.74 L224.5,724.74Z" stroke="none" fill="#000"/>
<circle cx="58.5" cy="660.8" r="3.4" fill="#000" stroke="none"/>
<circle cx="72.3" cy="707.7" r="3.4" fill="#000" stroke="none"/>
<circle cx="83.8" cy="762.3" r="3.4" fill="#000" stroke="none"/>
<circle cx="93.5" cy="766.9" r="3.4" fill="#000" stroke="none"/>
<circle cx="106.9" cy="753.5" r="3.4" fill="#000" stroke="none"/>
<circle cx="117.3" cy="738.7" r="3.4" fill="#000" stroke="none"/>
<circle cx="130" cy="742.5" r="3.4" fill="#000" stroke="none"/>
<circle cx="141.25" cy="739.5" r="3.4" fill="#000" stroke="none"/>
<circle cx="150.5" cy="740" r="3.4" fill="#000" stroke="none"/>
<circle cx="163" cy="737" r="3.4" fill="#000" stroke="none"/>
<circle cx="175" cy="732" r="3.4" fill="#000" stroke="none"/>
<circle cx="185.5" cy="732" r="3.4" fill="#000" stroke="none"/>
<circle cx="196.25" cy="731.25" r="3.4" fill="#000" stroke="none"/>
<circle cx="206.25" cy="735.5" r="3.4" fill="#000" stroke="none"/>
<circle cx="219.5" cy="733.75" r="3.4" fill="#000" stroke="none"/>
<circle cx="228.75" cy="731.25" r="3.4" fill="#000" stroke="none"/>
<text x="88.1" y="725.75" font-size="9" font-family="'Liberation Serif', serif" font-weight="bold" text-anchor="middle" stroke="#000" stroke-width="0.5">*</text>
<text x="98.7" y="720.55" font-size="9" font-family="'Liberation Serif', serif" font-weight="bold" text-anchor="middle" stroke="#000" stroke-width="0.5">*</text>
<text x="110.2" y="718.05" font-size="9" font-family="'Liberation Serif', serif" font-weight="bold" text-anchor="middle" stroke="#000" stroke-width="0.5">*</text>
<text x="121.7" y="709.55" font-size="9" font-family="'Liberation Serif', serif" font-weight="bold" text-anchor="middle" stroke="#000" stroke-width="0.5">*</text>
<text x="133.3" y="712.85" font-size="9" font-family="'Liberation Serif', serif" font-weight="bold" text-anchor="middle" stroke="#000" stroke-width="0.5">*</text>
<text x="88.1" y="753.75" font-size="9" font-family="'Liberation Serif', serif" font-weight="bold" text-anchor="middle" stroke="#000" stroke-width="0.5">*</text>
<text x="98.1" y="753.75" font-size="9" font-family="'Liberation Serif', serif" font-weight="bold" text-anchor="middle" stroke="#000" stroke-width="0.5">*</text>
<text stroke="#000" stroke-width="0.2" font-family="'Liberation Serif', serif" font-size="12.5" transform="translate(13.8,768.6) rotate(-90)" textLength="52.5" lengthAdjust="spacingAndGlyphs">WBC Count</text>
<text stroke="#000" stroke-width="0.2" font-family="'Liberation Serif', serif" font-size="8.1" transform="translate(13.8,712.9) rotate(-90)" textLength="38" lengthAdjust="spacingAndGlyphs">(X10<tspan font-size="5.5" dy="-3.6">2</tspan><tspan dy="3.6">/mL)</tspan></text>
<text x="130.5" y="870.6" font-size="11" font-family="'Liberation Serif', serif" font-weight="normal" text-anchor="start" stroke="#000" stroke-width="0.55" textLength="21.5" lengthAdjust="spacingAndGlyphs">Days</text>
<line x1="335.4" y1="669.6" x2="335.4" y2="692.6" stroke-width="1.1"/>
<line x1="333.7" y1="669.6" x2="337.1" y2="669.6" stroke-width="1.1"/>
<line x1="333.7" y1="692.6" x2="337.1" y2="692.6" stroke-width="1.1"/>
<line x1="345" y1="692" x2="345" y2="709.7" stroke-width="1.1"/>
<line x1="343.3" y1="692" x2="346.7" y2="692" stroke-width="1.1"/>
<line x1="343.3" y1="709.7" x2="346.7" y2="709.7" stroke-width="1.1"/>
<line x1="360.8" y1="713.8" x2="360.8" y2="736.3" stroke-width="1.1"/>
<line x1="359.1" y1="713.8" x2="362.5" y2="713.8" stroke-width="1.1"/>
<line x1="359.1" y1="736.3" x2="362.5" y2="736.3" stroke-width="1.1"/>
<line x1="371.5" y1="715.2" x2="371.5" y2="743" stroke-width="1.1"/>
<line x1="369.8" y1="715.2" x2="373.2" y2="715.2" stroke-width="1.1"/>
<line x1="369.8" y1="743" x2="373.2" y2="743" stroke-width="1.1"/>
<line x1="385.4" y1="717" x2="385.4" y2="736.3" stroke-width="1.1"/>
<line x1="383.7" y1="717" x2="387.1" y2="717" stroke-width="1.1"/>
<line x1="383.7" y1="736.3" x2="387.1" y2="736.3" stroke-width="1.1"/>
<line x1="395.4" y1="715.2" x2="395.4" y2="728.3" stroke-width="1.1"/>
<line x1="393.7" y1="715.2" x2="397.1" y2="715.2" stroke-width="1.1"/>
<line x1="393.7" y1="728.3" x2="397.1" y2="728.3" stroke-width="1.1"/>
<line x1="408.3" y1="719" x2="408.3" y2="734.6" stroke-width="1.1"/>
<line x1="406.6" y1="719" x2="410" y2="719" stroke-width="1.1"/>
<line x1="406.6" y1="734.6" x2="410" y2="734.6" stroke-width="1.1"/>
<line x1="417.7" y1="713.8" x2="417.7" y2="728.9" stroke-width="1.1"/>
<line x1="416" y1="713.8" x2="419.4" y2="713.8" stroke-width="1.1"/>
<line x1="416" y1="728.9" x2="419.4" y2="728.9" stroke-width="1.1"/>
<line x1="428.2" y1="713.4" x2="428.2" y2="732.6" stroke-width="1.1"/>
<line x1="426.5" y1="713.4" x2="429.9" y2="713.4" stroke-width="1.1"/>
<line x1="426.5" y1="732.6" x2="429.9" y2="732.6" stroke-width="1.1"/>
<line x1="440.1" y1="709.2" x2="440.1" y2="727.4" stroke-width="1.1"/>
<line x1="438.4" y1="709.2" x2="441.8" y2="709.2" stroke-width="1.1"/>
<line x1="438.4" y1="727.4" x2="441.8" y2="727.4" stroke-width="1.1"/>
<line x1="452.9" y1="716.5" x2="452.9" y2="732.6" stroke-width="1.1"/>
<line x1="451.2" y1="716.5" x2="454.6" y2="716.5" stroke-width="1.1"/>
<line x1="451.2" y1="732.6" x2="454.6" y2="732.6" stroke-width="1.1"/>
<line x1="463" y1="714.7" x2="463" y2="732.6" stroke-width="1.1"/>
<line x1="461.3" y1="714.7" x2="464.7" y2="714.7" stroke-width="1.1"/>
<line x1="461.3" y1="732.6" x2="464.7" y2="732.6" stroke-width="1.1"/>
<line x1="473.4" y1="712.9" x2="473.4" y2="728.9" stroke-width="1.1"/>
<line x1="471.7" y1="712.9" x2="475.1" y2="712.9" stroke-width="1.1"/>
<line x1="471.7" y1="728.9" x2="475.1" y2="728.9" stroke-width="1.1"/>
<line x1="483.6" y1="709.2" x2="483.6" y2="728.5" stroke-width="1.1"/>
<line x1="481.9" y1="709.2" x2="485.3" y2="709.2" stroke-width="1.1"/>
<line x1="481.9" y1="728.5" x2="485.3" y2="728.5" stroke-width="1.1"/>
<line x1="496.8" y1="717" x2="496.8" y2="734.4" stroke-width="1.1"/>
<line x1="495.1" y1="717" x2="498.5" y2="717" stroke-width="1.1"/>
<line x1="495.1" y1="734.4" x2="498.5" y2="734.4" stroke-width="1.1"/>
<line x1="505.6" y1="715.6" x2="505.6" y2="734.4" stroke-width="1.1"/>
<line x1="503.9" y1="715.6" x2="507.3" y2="715.6" stroke-width="1.1"/>
<line x1="503.9" y1="734.4" x2="507.3" y2="734.4" stroke-width="1.1"/>
<line x1="336.3" y1="657.5" x2="336.3" y2="677" stroke-width="1.1"/>
<line x1="334.6" y1="657.5" x2="338" y2="657.5" stroke-width="1.1"/>
<line x1="334.6" y1="677" x2="338" y2="677" stroke-width="1.1"/>
<line x1="346" y1="712" x2="346" y2="727.7" stroke-width="1.1"/>
<line x1="344.3" y1="712" x2="347.7" y2="712" stroke-width="1.1"/>
<line x1="344.3" y1="727.7" x2="347.7" y2="727.7" stroke-width="1.1"/>
<line x1="360.8" y1="755.6" x2="360.8" y2="775.8" stroke-width="1.1"/>
<line x1="359.1" y1="755.6" x2="362.5" y2="755.6" stroke-width="1.1"/>
<line x1="359.1" y1="775.8" x2="362.5" y2="775.8" stroke-width="1.1"/>
<line x1="371.5" y1="763.3" x2="371.5" y2="782.5" stroke-width="1.1"/>
<line x1="369.8" y1="763.3" x2="373.2" y2="763.3" stroke-width="1.1"/>
<line x1="369.8" y1="782.5" x2="373.2" y2="782.5" stroke-width="1.1"/>
<line x1="385.4" y1="754.6" x2="385.4" y2="770" stroke-width="1.1"/>
<line x1="383.7" y1="754.6" x2="387.1" y2="754.6" stroke-width="1.1"/>
<line x1="383.7" y1="770" x2="387.1" y2="770" stroke-width="1.1"/>
<line x1="396" y1="746" x2="396" y2="769" stroke-width="1.1"/>
<line x1="394.3" y1="746" x2="397.7" y2="746" stroke-width="1.1"/>
<line x1="394.3" y1="769" x2="397.7" y2="769" stroke-width="1.1"/>
<line x1="408" y1="742" x2="408" y2="759.4" stroke-width="1.1"/>
<line x1="406.3" y1="742" x2="409.7" y2="742" stroke-width="1.1"/>
<line x1="406.3" y1="759.4" x2="409.7" y2="759.4" stroke-width="1.1"/>
<line x1="418.5" y1="742" x2="418.5" y2="757.5" stroke-width="1.1"/>
<line x1="416.8" y1="742" x2="420.2" y2="742" stroke-width="1.1"/>
<line x1="416.8" y1="757.5" x2="420.2" y2="757.5" stroke-width="1.1"/>
<line x1="428.2" y1="729.7" x2="428.2" y2="747.6" stroke-width="1.1"/>
<line x1="426.5" y1="729.7" x2="429.9" y2="729.7" stroke-width="1.1"/>
<line x1="426.5" y1="747.6" x2="429.9" y2="747.6" stroke-width="1.1"/>
<line x1="440.1" y1="727.9" x2="440.1" y2="744.8" stroke-width="1.1"/>
<line x1="438.4" y1="727.9" x2="441.8" y2="727.9" stroke-width="1.1"/>
<line x1="438.4" y1="744.8" x2="441.8" y2="744.8" stroke-width="1.1"/>
<line x1="452.9" y1="727" x2="452.9" y2="743" stroke-width="1.1"/>
<line x1="451.2" y1="727" x2="454.6" y2="727" stroke-width="1.1"/>
<line x1="451.2" y1="743" x2="454.6" y2="743" stroke-width="1.1"/>
<line x1="463" y1="727.9" x2="463" y2="742.1" stroke-width="1.1"/>
<line x1="461.3" y1="727.9" x2="464.7" y2="727.9" stroke-width="1.1"/>
<line x1="461.3" y1="742.1" x2="464.7" y2="742.1" stroke-width="1.1"/>
<line x1="473.4" y1="729.7" x2="473.4" y2="748.9" stroke-width="1.1"/>
<line x1="471.7" y1="729.7" x2="475.1" y2="729.7" stroke-width="1.1"/>
<line x1="471.7" y1="748.9" x2="475.1" y2="748.9" stroke-width="1.1"/>
<line x1="483.6" y1="736.1" x2="483.6" y2="749.4" stroke-width="1.1"/>
<line x1="481.9" y1="736.1" x2="485.3" y2="736.1" stroke-width="1.1"/>
<line x1="481.9" y1="749.4" x2="485.3" y2="749.4" stroke-width="1.1"/>
<line x1="496.8" y1="737" x2="496.8" y2="748.9" stroke-width="1.1"/>
<line x1="495.1" y1="737" x2="498.5" y2="737" stroke-width="1.1"/>
<line x1="495.1" y1="748.9" x2="498.5" y2="748.9" stroke-width="1.1"/>
<line x1="505.6" y1="730.6" x2="505.6" y2="748.1" stroke-width="1.1"/>
<line x1="503.9" y1="730.6" x2="507.3" y2="730.6" stroke-width="1.1"/>
<line x1="503.9" y1="748.1" x2="507.3" y2="748.1" stroke-width="1.1"/>
<line x1="336.3" y1="667.8" x2="336.3" y2="679.8" stroke-width="1.1"/>
<line x1="334.6" y1="667.8" x2="338" y2="667.8" stroke-width="1.1"/>
<line x1="334.6" y1="679.8" x2="338" y2="679.8" stroke-width="1.1"/>
<line x1="346.3" y1="740.2" x2="346.3" y2="761.3" stroke-width="1.1"/>
<line x1="344.6" y1="740.2" x2="348" y2="740.2" stroke-width="1.1"/>
<line x1="344.6" y1="761.3" x2="348" y2="761.3" stroke-width="1.1"/>
<line x1="361" y1="797" x2="361" y2="811.3" stroke-width="1.1"/>
<line x1="359.3" y1="797" x2="362.7" y2="797" stroke-width="1.1"/>
<line x1="359.3" y1="811.3" x2="362.7" y2="811.3" stroke-width="1.1"/>
<line x1="372.3" y1="808" x2="372.3" y2="821" stroke-width="1.1"/>
<line x1="370.6" y1="808" x2="374" y2="808" stroke-width="1.1"/>
<line x1="370.6" y1="821" x2="374" y2="821" stroke-width="1.1"/>
<polyline points="335.4,679.6 345,703.7 360.8,725.8 371.5,734.4 385.4,727.7 395.4,722.3 408.3,728.6 417.7,722.9 428.2,726.6 440.1,721.4 452.9,726.6 463,726.6 473.4,722.9 483.6,722.5 496.8,728.4 505.6,728.4" fill="none" stroke-width="1.3"/>
<polyline points="336.3,671 346,718 360.8,765.2 371.5,772.9 385.4,760.8 396,756.2 408,749.2 418.5,748 428.2,735.7 440.1,733.9 452.9,733 463,733.9 473.4,735.7 483.6,742.1 496.8,743 505.6,736.6" fill="none" stroke-width="1.3"/>
<polyline points="336.3,673.8 346.3,750.4 361,803.7 372.3,814.2" fill="none" stroke-width="1.3"/>
<circle cx="336.3" cy="673.8" r="3.2" fill="#fff" stroke-width="1.15"/>
<circle cx="346.3" cy="750.4" r="3.2" fill="#fff" stroke-width="1.15"/>
<circle cx="361" cy="803.7" r="3.2" fill="#fff" stroke-width="1.15"/>
<circle cx="372.3" cy="814.2" r="3.2" fill="#fff" stroke-width="1.15"/>
<path d="M335.4,676.24 L338.9,681.84 L331.9,681.84Z" stroke="none" fill="#000"/>
<path d="M345,700.34 L348.5,705.94 L341.5,705.94Z" stroke="none" fill="#000"/>
<path d="M360.8,722.44 L364.3,728.04 L357.3,728.04Z" stroke="none" fill="#000"/>
<path d="M371.5,731.04 L375,736.64 L368,736.64Z" stroke="none" fill="#000"/>
<path d="M385.4,724.34 L388.9,729.94 L381.9,729.94Z" stroke="none" fill="#000"/>
<path d="M395.4,718.94 L398.9,724.54 L391.9,724.54Z" stroke="none" fill="#000"/>
<path d="M408.3,725.24 L411.8,730.84 L404.8,730.84Z" stroke="none" fill="#000"/>
<path d="M417.7,719.54 L421.2,725.14 L414.2,725.14Z" stroke="none" fill="#000"/>
<path d="M428.2,723.24 L431.7,728.84 L424.7,728.84Z" stroke="none" fill="#000"/>
<path d="M440.1,718.04 L443.6,723.64 L436.6,723.64Z" stroke="none" fill="#000"/>
<path d="M452.9,723.24 L456.4,728.84 L449.4,728.84Z" stroke="none" fill="#000"/>
<path d="M463,723.24 L466.5,728.84 L459.5,728.84Z" stroke="none" fill="#000"/>
<path d="M473.4,719.54 L476.9,725.14 L469.9,725.14Z" stroke="none" fill="#000"/>
<path d="M483.6,719.14 L487.1,724.74 L480.1,724.74Z" stroke="none" fill="#000"/>
<path d="M496.8,725.04 L500.3,730.64 L493.3,730.64Z" stroke="none" fill="#000"/>
<path d="M505.6,725.04 L509.1,730.64 L502.1,730.64Z" stroke="none" fill="#000"/>
<circle cx="336.3" cy="671" r="3.4" fill="#000" stroke="none"/>
<circle cx="346" cy="718" r="3.4" fill="#000" stroke="none"/>
<circle cx="360.8" cy="765.2" r="3.4" fill="#000" stroke="none"/>
<circle cx="371.5" cy="772.9" r="3.4" fill="#000" stroke="none"/>
<circle cx="385.4" cy="760.8" r="3.4" fill="#000" stroke="none"/>
<circle cx="396" cy="756.2" r="3.4" fill="#000" stroke="none"/>
<circle cx="408" cy="749.2" r="3.4" fill="#000" stroke="none"/>
<circle cx="418.5" cy="748" r="3.4" fill="#000" stroke="none"/>
<circle cx="428.2" cy="735.7" r="3.4" fill="#000" stroke="none"/>
<circle cx="440.1" cy="733.9" r="3.4" fill="#000" stroke="none"/>
<circle cx="452.9" cy="733" r="3.4" fill="#000" stroke="none"/>
<circle cx="463" cy="733.9" r="3.4" fill="#000" stroke="none"/>
<circle cx="473.4" cy="735.7" r="3.4" fill="#000" stroke="none"/>
<circle cx="483.6" cy="742.1" r="3.4" fill="#000" stroke="none"/>
<circle cx="496.8" cy="743" r="3.4" fill="#000" stroke="none"/>
<circle cx="505.6" cy="736.6" r="3.4" fill="#000" stroke="none"/>
<text x="349.8" y="704.75" font-size="9" font-family="'Liberation Serif', serif" font-weight="bold" text-anchor="middle" stroke="#000" stroke-width="0.5">*</text>
<text x="366.2" y="726.45" font-size="9" font-family="'Liberation Serif', serif" font-weight="bold" text-anchor="middle" stroke="#000" stroke-width="0.5">*</text>
<text x="377.3" y="720.75" font-size="9" font-family="'Liberation Serif', serif" font-weight="bold" text-anchor="middle" stroke="#000" stroke-width="0.5">*</text>
<text x="388.3" y="718.75" font-size="9" font-family="'Liberation Serif', serif" font-weight="bold" text-anchor="middle" stroke="#000" stroke-width="0.5">*</text>
<text x="399.2" y="710.55" font-size="9" font-family="'Liberation Serif', serif" font-weight="bold" text-anchor="middle" stroke="#000" stroke-width="0.5">*</text>
<text x="410.4" y="721.15" font-size="9" font-family="'Liberation Serif', serif" font-weight="bold" text-anchor="middle" stroke="#000" stroke-width="0.5">*</text>
<text x="422.6" y="716.15" font-size="9" font-family="'Liberation Serif', serif" font-weight="bold" text-anchor="middle" stroke="#000" stroke-width="0.5">*</text>
<text x="367.1" y="761.15" font-size="9" font-family="'Liberation Serif', serif" font-weight="bold" text-anchor="middle" stroke="#000" stroke-width="0.5">*</text>
<text x="376.7" y="763.75" font-size="9" font-family="'Liberation Serif', serif" font-weight="bold" text-anchor="middle" stroke="#000" stroke-width="0.5">*</text>
<text stroke="#000" stroke-width="0.2" font-family="'Liberation Serif', serif" font-size="12.5" transform="translate(293.2,768.6) rotate(-90)" textLength="52.5" lengthAdjust="spacingAndGlyphs">WBC Count</text>
<text stroke="#000" stroke-width="0.2" font-family="'Liberation Serif', serif" font-size="8.1" transform="translate(293.2,712.9) rotate(-90)" textLength="38" lengthAdjust="spacingAndGlyphs">(X10<tspan font-size="5.5" dy="-3.6">2</tspan><tspan dy="3.6">/mL)</tspan></text>
<text x="408.8" y="871.2" font-size="11" font-family="'Liberation Serif', serif" font-weight="normal" text-anchor="start" stroke="#000" stroke-width="0.55" textLength="20.7" lengthAdjust="spacingAndGlyphs">Days</text>
</g>
</svg>
</body></html>
